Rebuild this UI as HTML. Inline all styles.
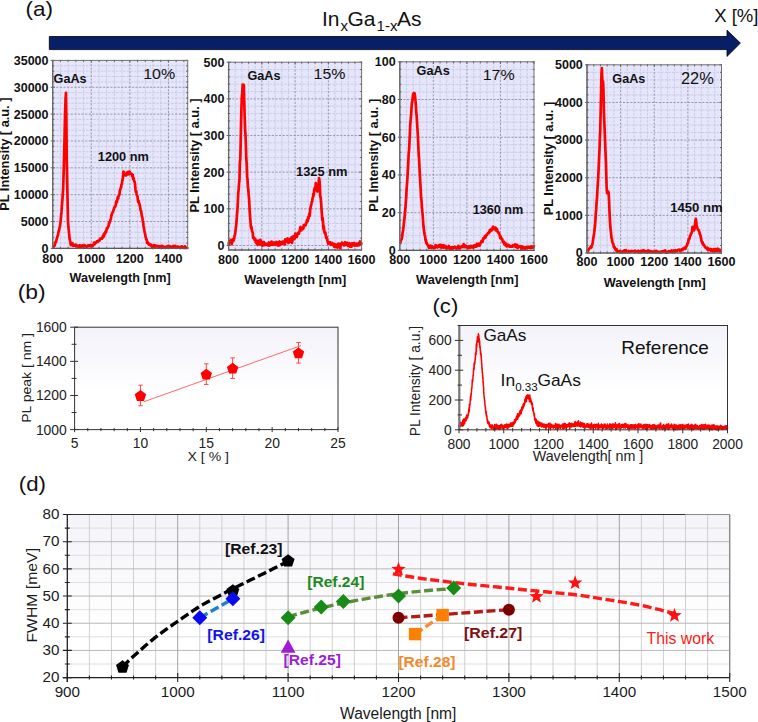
<!DOCTYPE html>
<html><head><meta charset="utf-8"><title>InGaAs PL figure</title>
<style>html,body{margin:0;padding:0;background:#fff;}body{width:758px;height:722px;overflow:hidden;font-family:"Liberation Sans", sans-serif;}svg{display:block;}</style>
</head><body>
<svg width="758" height="722" viewBox="0 0 758 722" font-family='"Liberation Sans", sans-serif'><defs><linearGradient id="gb" x1="0" y1="0" x2="0" y2="1"><stop offset="0" stop-color="#f2f2f9"/><stop offset="0.65" stop-color="#ffffff"/></linearGradient><linearGradient id="gd" x1="0" y1="0" x2="0" y2="1"><stop offset="0" stop-color="#f3f3f9"/><stop offset="0.7" stop-color="#ffffff"/></linearGradient></defs><text x="25.51" y="15.8" font-size="21" fill="#111" textLength="27.49" lengthAdjust="spacingAndGlyphs">(a)</text>
<text y="25.7" font-size="21" fill="#111"><tspan x="322">In</tspan><tspan x="340.4" y="31" font-size="15">x</tspan><tspan x="347.4" y="25.7">Ga</tspan><tspan x="376.6" y="31" font-size="15">1-x</tspan><tspan x="396.9" y="25.7">As</tspan></text>
<text x="714.18" y="21.8" font-size="18" fill="#111" textLength="44.34" lengthAdjust="spacingAndGlyphs">X [%]</text>
<path d="M49.3,36.5 L727,36.5 L727,30.2 L740.4,43.1 L727,56.4 L727,49.6 L49.3,49.6 Z" fill="#071f66" stroke="#000" stroke-width="0.8"/>
<rect x="52.7" y="60.4" width="135" height="188" fill="#e5e5fb"/>
<path d="M60.41,60.4V248.4M68.13,60.4V248.4M75.84,60.4V248.4M83.56,60.4V248.4M98.99,60.4V248.4M106.7,60.4V248.4M114.41,60.4V248.4M122.13,60.4V248.4M137.56,60.4V248.4M145.27,60.4V248.4M152.99,60.4V248.4M160.7,60.4V248.4M176.13,60.4V248.4M183.84,60.4V248.4M52.7,243.03H187.7M52.7,237.66H187.7M52.7,232.29H187.7M52.7,226.91H187.7M52.7,216.17H187.7M52.7,210.8H187.7M52.7,205.43H187.7M52.7,200.06H187.7M52.7,189.31H187.7M52.7,183.94H187.7M52.7,178.57H187.7M52.7,173.2H187.7M52.7,162.46H187.7M52.7,157.09H187.7M52.7,151.71H187.7M52.7,146.34H187.7M52.7,135.6H187.7M52.7,130.23H187.7M52.7,124.86H187.7M52.7,119.49H187.7M52.7,108.74H187.7M52.7,103.37H187.7M52.7,98H187.7M52.7,92.63H187.7M52.7,81.89H187.7M52.7,76.51H187.7M52.7,71.14H187.7M52.7,65.77H187.7" stroke="#c4c4dc" stroke-width="0.8" stroke-dasharray="2.5 1.2" fill="none"/>
<path d="M91.27,60.4V248.4M129.84,60.4V248.4M168.41,60.4V248.4M52.7,221.54H187.7M52.7,194.69H187.7M52.7,167.83H187.7M52.7,140.97H187.7M52.7,114.11H187.7M52.7,87.26H187.7" stroke="#8e8ea8" stroke-width="0.9" stroke-dasharray="2.2 1.4" fill="none"/>
<polyline points="52.7,247.59 53.1,246.84 53.5,246.69 53.91,246.55 54.31,245.66 54.71,245.34 55.11,243.83 55.51,241.96 55.91,242.1 56.32,240.97 56.72,238.86 57.12,237.54 57.52,236.24 57.92,235.44 58.32,233.08 58.73,230.72 59.13,230.42 59.53,227.61 59.93,226.45 60.33,223.23 60.74,220.49 61.14,215.14 61.54,211.63 61.94,205.35 62.34,200.52 62.74,194.96 63.15,189.21 63.55,175.62 63.95,162.41 64.35,146.37 64.75,129.09 65.16,110.95 65.56,99.13 65.96,92.87 66.36,119.21 66.76,161.86 67.16,181.1 67.57,200.88 67.97,220.65 68.37,226.48 68.77,230.37 69.17,234.04 69.58,238.51 69.98,240.62 70.38,241.98 70.78,245.13 71.18,243.74 71.58,244.2 71.99,244.81 72.39,243.23 72.79,244.28 73.19,245.78 73.59,245.07 73.99,244.86 74.4,245.47 74.8,244.97 75.2,245.55 75.6,245.13 76,244.68 76.41,246.15 76.81,245.62 77.21,246.12 77.61,245.78 78.01,246.7 78.41,246.34 78.82,246.13 79.22,245.43 79.62,245.3 80.02,246.97 80.42,246.63 80.83,245.7 81.23,247.46 81.63,246.45 82.03,246.21 82.43,245.32 82.83,245.7 83.24,246.38 83.64,246.41 84.04,246.33 84.44,245.16 84.84,246.45 85.24,246.36 85.65,245.92 86.05,246.23 86.45,246.27 86.85,246.86 87.25,246.11 87.66,246.37 88.06,245.28 88.46,245.59 88.86,246 89.26,245.49 89.66,246.11 90.07,245.12 90.47,245.75 90.87,245.27 91.27,246.41 91.67,245.19 92.08,246.39 92.48,246.45 92.88,245.08 93.28,245.24 93.68,244.26 94.08,242.55 94.49,244.33 94.89,243.85 95.29,242.94 95.69,242.41 96.09,242.54 96.49,242.25 96.9,241.32 97.3,241.15 97.7,241.96 98.1,241 98.5,240.63 98.91,241.1 99.31,239.86 99.71,240.33 100.11,238.68 100.51,238.87 100.91,238.55 101.32,238.61 101.72,237.8 102.12,238.68 102.52,237.52 102.92,235.87 103.33,237.17 103.73,234.36 104.13,235.71 104.53,233.18 104.93,233.75 105.33,231.8 105.74,231.57 106.14,232.12 106.54,229.12 106.94,228.1 107.34,228.41 107.74,227.63 108.15,226.51 108.55,226.08 108.95,223.18 109.35,223.35 109.75,221.65 110.16,221 110.56,219.53 110.96,218.78 111.36,215.17 111.76,215.12 112.16,212.78 112.57,212.39 112.97,211.85 113.37,210.37 113.77,209.51 114.17,207.94 114.58,207.32 114.98,206.28 115.38,206.39 115.78,204.86 116.18,201.38 116.58,202.67 116.99,201.93 117.39,199.29 117.79,196.9 118.19,198.59 118.59,195.93 118.99,195 119.4,194.83 119.8,190.65 120.2,190 120.6,188.37 121,187.72 121.41,184.68 121.81,183.99 122.21,181.23 122.61,179.6 123.01,176.78 123.41,171.51 123.82,173.01 124.22,172.35 124.62,173.63 125.02,174.82 125.42,175.25 125.83,174.16 126.23,175.35 126.63,174.87 127.03,174.09 127.43,172.02 127.83,172.06 128.24,172.03 128.64,173.1 129.04,174.24 129.44,171.59 129.84,171.95 130.24,173.78 130.65,173.41 131.05,173.56 131.45,173.81 131.85,174.03 132.25,176.17 132.66,174.46 133.06,178.81 133.46,177.58 133.86,179.64 134.26,181.03 134.66,181.84 135.07,184.36 135.47,189.38 135.87,191.97 136.27,191.12 136.67,194.91 137.07,195.49 137.48,196.14 137.88,200.22 138.28,202.12 138.68,201.1 139.08,202.74 139.49,204.47 139.89,205.68 140.29,208.13 140.69,210.44 141.09,211.01 141.49,213.82 141.9,216.68 142.3,217.14 142.7,220.14 143.1,222.22 143.5,225.77 143.91,227.73 144.31,230.26 144.71,232.45 145.11,233.86 145.51,236.7 145.91,237.76 146.32,239.37 146.72,239.46 147.12,242.78 147.52,241.89 147.92,243.06 148.33,243.4 148.73,244.72 149.13,244.42 149.53,244.03 149.93,244.99 150.33,245.11 150.74,245.49 151.14,244.64 151.54,245.52 151.94,247.06 152.34,246.13 152.74,247.06 153.15,247.8 153.55,246.25 153.95,245.08 154.35,246 154.75,246.87 155.16,246.78 155.56,245.47 155.96,246.17 156.36,246.3 156.76,246.42 157.16,246.42 157.57,245.96 157.97,246.18 158.37,246.45 158.77,247.32 159.17,246.35 159.58,247.17 159.98,246.04 160.38,247.64 160.78,246.93 161.18,246.88 161.58,247.78 161.99,245.81 162.39,246 162.79,247.29 163.19,246.5 163.59,246.78 163.99,247.8 164.4,246.89 164.8,247.1 165.2,247.02 165.6,247.78 166,247.26 166.41,247.2 166.81,246.3 167.21,246.86 167.61,247.08 168.01,246.07 168.41,247.43 168.82,247.31 169.22,247.8 169.62,246.01 170.02,246.4 170.42,246.43 170.82,246.58 171.23,246.94 171.63,246.86 172.03,247.16 172.43,247.13 172.83,246.95 173.24,245.99 173.64,246.61 174.04,247.01 174.44,247.35 174.84,247.39 175.24,245.92 175.65,246.64 176.05,246.94 176.45,247.22 176.85,247.73 177.25,247.06 177.66,246.46 178.06,247.31 178.46,247.23 178.86,247.25 179.26,247.05 179.66,247.8 180.07,247.33 180.47,247.77 180.87,246.66 181.27,247.77 181.67,246.93 182.08,246.34 182.48,247.58 182.88,247.8 183.28,247.32 183.68,247.48 184.08,247.8 184.49,247.26 184.89,246.28 185.29,247.8 185.69,247.8 186.09,247.8 186.49,247.55 186.9,247.8 187.3,247.8 187.7,247.03" fill="none" stroke="#ff0000" stroke-width="2.7" stroke-linejoin="round"/>
<path d="M52.7,246.2V249.2M52.7,59.9V62.6M60.41,246.9V249.2M60.41,59.9V61.9M68.13,246.9V249.2M68.13,59.9V61.9M75.84,246.9V249.2M75.84,59.9V61.9M83.56,246.9V249.2M83.56,59.9V61.9M91.27,246.2V249.2M91.27,59.9V62.6M98.99,246.9V249.2M98.99,59.9V61.9M106.7,246.9V249.2M106.7,59.9V61.9M114.41,246.9V249.2M114.41,59.9V61.9M122.13,246.9V249.2M122.13,59.9V61.9M129.84,246.2V249.2M129.84,59.9V62.6M137.56,246.9V249.2M137.56,59.9V61.9M145.27,246.9V249.2M145.27,59.9V61.9M152.99,246.9V249.2M152.99,59.9V61.9M160.7,246.9V249.2M160.7,59.9V61.9M168.41,246.2V249.2M168.41,59.9V62.6M176.13,246.9V249.2M176.13,59.9V61.9M183.84,246.9V249.2M183.84,59.9V61.9M50.7,248.4H54.9M185.5,248.4H188.2M51.9,243.03H54.2M186.2,243.03H188.2M51.9,237.66H54.2M186.2,237.66H188.2M51.9,232.29H54.2M186.2,232.29H188.2M51.9,226.91H54.2M186.2,226.91H188.2M50.7,221.54H54.9M185.5,221.54H188.2M51.9,216.17H54.2M186.2,216.17H188.2M51.9,210.8H54.2M186.2,210.8H188.2M51.9,205.43H54.2M186.2,205.43H188.2M51.9,200.06H54.2M186.2,200.06H188.2M50.7,194.69H54.9M185.5,194.69H188.2M51.9,189.31H54.2M186.2,189.31H188.2M51.9,183.94H54.2M186.2,183.94H188.2M51.9,178.57H54.2M186.2,178.57H188.2M51.9,173.2H54.2M186.2,173.2H188.2M50.7,167.83H54.9M185.5,167.83H188.2M51.9,162.46H54.2M186.2,162.46H188.2M51.9,157.09H54.2M186.2,157.09H188.2M51.9,151.71H54.2M186.2,151.71H188.2M51.9,146.34H54.2M186.2,146.34H188.2M50.7,140.97H54.9M185.5,140.97H188.2M51.9,135.6H54.2M186.2,135.6H188.2M51.9,130.23H54.2M186.2,130.23H188.2M51.9,124.86H54.2M186.2,124.86H188.2M51.9,119.49H54.2M186.2,119.49H188.2M50.7,114.11H54.9M185.5,114.11H188.2M51.9,108.74H54.2M186.2,108.74H188.2M51.9,103.37H54.2M186.2,103.37H188.2M51.9,98H54.2M186.2,98H188.2M51.9,92.63H54.2M186.2,92.63H188.2M50.7,87.26H54.9M185.5,87.26H188.2M51.9,81.89H54.2M186.2,81.89H188.2M51.9,76.51H54.2M186.2,76.51H188.2M51.9,71.14H54.2M186.2,71.14H188.2M51.9,65.77H54.2M186.2,65.77H188.2M50.7,60.4H54.9M185.5,60.4H188.2" stroke="#555" stroke-width="0.9" fill="none"/>
<rect x="52.7" y="60.4" width="135" height="188" fill="none" stroke="#707070" stroke-width="1"/>
<line x1="52.7" y1="60.4" x2="52.7" y2="248.4" stroke="#6a6a6a" stroke-width="1.3"/>
<line x1="52.7" y1="248.4" x2="187.7" y2="248.4" stroke="#5a5a5a" stroke-width="1.2"/>
<text x="48.5" y="252.8" font-size="12.5" font-weight="bold" text-anchor="end" fill="#111">0</text>
<text x="48.5" y="225.94" font-size="12.5" font-weight="bold" text-anchor="end" fill="#111">5000</text>
<text x="48.5" y="199.09" font-size="12.5" font-weight="bold" text-anchor="end" fill="#111">10000</text>
<text x="48.5" y="172.23" font-size="12.5" font-weight="bold" text-anchor="end" fill="#111">15000</text>
<text x="48.5" y="145.37" font-size="12.5" font-weight="bold" text-anchor="end" fill="#111">20000</text>
<text x="48.5" y="118.51" font-size="12.5" font-weight="bold" text-anchor="end" fill="#111">25000</text>
<text x="48.5" y="91.66" font-size="12.5" font-weight="bold" text-anchor="end" fill="#111">30000</text>
<text x="48.5" y="64.8" font-size="12.5" font-weight="bold" text-anchor="end" fill="#111">35000</text>
<text x="52.7" y="262.7" font-size="12.6" font-weight="bold" text-anchor="middle" fill="#111">800</text>
<text x="91.27" y="262.7" font-size="12.6" font-weight="bold" text-anchor="middle" fill="#111">1000</text>
<text x="129.84" y="262.7" font-size="12.6" font-weight="bold" text-anchor="middle" fill="#111">1200</text>
<text x="168.41" y="262.7" font-size="12.6" font-weight="bold" text-anchor="middle" fill="#111">1400</text>
<text x="69.49" y="281.8" font-size="12.1" font-weight="bold" fill="#111" textLength="101.22" lengthAdjust="spacingAndGlyphs">Wavelength [nm]</text>
<text x="53.58" y="83.2" font-size="12.2" font-weight="bold" fill="#111" textLength="33.04" lengthAdjust="spacingAndGlyphs">GaAs</text>
<text x="97.8" y="161.4" font-size="12.2" font-weight="bold" fill="#111" textLength="51.1" lengthAdjust="spacingAndGlyphs">1200 nm</text>
<text x="143.18" y="79.3" font-size="15.2" fill="#111" textLength="31.99" lengthAdjust="spacingAndGlyphs">10%</text>
<text transform="translate(9,210.75) rotate(-90)" font-size="12.4" font-weight="bold" fill="#111" textLength="113.17" lengthAdjust="spacingAndGlyphs">PL Intensity [ a.u. ]</text>
<rect x="228.6" y="62.2" width="133" height="187.8" fill="#e5e5fb"/>
<path d="M235.25,62.2V250M241.9,62.2V250M248.55,62.2V250M255.2,62.2V250M268.5,62.2V250M275.15,62.2V250M281.8,62.2V250M288.45,62.2V250M301.75,62.2V250M308.4,62.2V250M315.05,62.2V250M321.7,62.2V250M335,62.2V250M341.65,62.2V250M348.3,62.2V250M354.95,62.2V250M228.6,238.16H361.6M228.6,230.83H361.6M228.6,223.5H361.6M228.6,216.16H361.6M228.6,201.5H361.6M228.6,194.17H361.6M228.6,186.84H361.6M228.6,179.51H361.6M228.6,164.84H361.6M228.6,157.51H361.6M228.6,150.18H361.6M228.6,142.85H361.6M228.6,128.18H361.6M228.6,120.85H361.6M228.6,113.52H361.6M228.6,106.19H361.6M228.6,91.53H361.6M228.6,84.19H361.6M228.6,76.86H361.6M228.6,69.53H361.6" stroke="#c4c4dc" stroke-width="0.8" stroke-dasharray="2.5 1.2" fill="none"/>
<path d="M261.85,62.2V250M295.1,62.2V250M328.35,62.2V250M228.6,245.49H361.6M228.6,208.83H361.6M228.6,172.17H361.6M228.6,135.52H361.6M228.6,98.86H361.6" stroke="#8e8ea8" stroke-width="0.9" stroke-dasharray="2.2 1.4" fill="none"/>
<polyline points="228.6,244.86 229,242.06 229.4,241.31 229.81,242.85 230.21,242.28 230.61,240.2 231.01,242.88 231.41,243.19 231.81,244.07 232.22,241.89 232.62,239.33 233.02,239.14 233.42,240.89 233.82,239.79 234.23,238.14 234.63,235.55 235.03,234.52 235.43,231.47 235.83,228.09 236.23,225.12 236.64,219.95 237.04,214.23 237.44,209.36 237.84,202.42 238.24,193.04 238.65,189.56 239.05,183.43 239.45,179.75 239.85,162.78 240.25,159.48 240.65,145.61 241.06,123.39 241.46,107.52 241.86,96.53 242.26,92.81 242.66,84.68 243.07,95.71 243.47,88.93 243.87,84.96 244.27,102.42 244.67,116.9 245.07,129.06 245.48,134.57 245.88,145.07 246.28,158.42 246.68,163.53 247.08,176.86 247.49,179.17 247.89,186.95 248.29,189.09 248.69,195.12 249.09,198.7 249.49,207.32 249.9,214.3 250.3,219.25 250.7,224.79 251.1,228.09 251.5,226.81 251.91,230.7 252.31,231.93 252.71,232.31 253.11,237.99 253.51,237.83 253.91,237.56 254.32,238.22 254.72,240.13 255.12,238.76 255.52,240.44 255.92,242.85 256.33,242.81 256.73,240.74 257.13,241.47 257.53,244.93 257.93,240.71 258.33,241.89 258.74,241.04 259.14,243.49 259.54,243.48 259.94,244.67 260.34,239.85 260.75,243.54 261.15,241.24 261.55,244.27 261.95,243.23 262.35,245.71 262.75,244.02 263.16,242.23 263.56,245.23 263.96,242.16 264.36,243.16 264.76,245.02 265.16,244.32 265.57,244.27 265.97,243.74 266.37,244.4 266.77,244.79 267.17,244.1 267.58,245.06 267.98,245.41 268.38,243.75 268.78,242.5 269.18,245.7 269.58,243.65 269.99,244.51 270.39,244.93 270.79,242.48 271.19,244.29 271.59,241.58 272,244.6 272.4,243.02 272.8,243.82 273.2,244.5 273.6,242.68 274,243.65 274.41,242.61 274.81,243.45 275.21,244.81 275.61,243.47 276.01,243.23 276.42,241.98 276.82,244.45 277.22,243.25 277.62,245.47 278.02,242.25 278.42,244.54 278.83,245.48 279.23,243.08 279.63,241.47 280.03,244.97 280.43,244.33 280.84,243.82 281.24,244.28 281.64,242.18 282.04,243.72 282.44,243.53 282.84,241.68 283.25,243.41 283.65,241.7 284.05,243.52 284.45,243.74 284.85,244.48 285.26,239.29 285.66,242.16 286.06,241.24 286.46,241.49 286.86,241.08 287.26,241.09 287.67,238.35 288.07,242.32 288.47,242.89 288.87,241.96 289.27,242.25 289.68,239.12 290.08,238.81 290.48,241.14 290.88,241.53 291.28,239.81 291.68,237.03 292.09,242.87 292.49,237.72 292.89,239.76 293.29,236.31 293.69,239.07 294.1,237.49 294.5,238.89 294.9,237.66 295.3,233.61 295.7,234.02 296.1,235.47 296.51,235.78 296.91,236.97 297.31,234.2 297.71,233.2 298.11,232.85 298.52,232.44 298.92,233.68 299.32,231.52 299.72,231.04 300.12,228.39 300.52,226.96 300.93,229.84 301.33,230.43 301.73,228.76 302.13,229.21 302.53,228.98 302.94,227.34 303.34,228.6 303.74,225.23 304.14,225.99 304.54,224.83 304.94,225.04 305.35,225.4 305.75,225.11 306.15,223.02 306.55,222.71 306.95,220.24 307.36,219.6 307.76,221.09 308.16,217.04 308.56,218.58 308.96,215.75 309.36,213.65 309.77,215.95 310.17,209.71 310.57,207.6 310.97,205.92 311.37,204.04 311.78,201.8 312.18,201.47 312.58,198.08 312.98,197.19 313.38,193.92 313.78,195.56 314.19,189.93 314.59,188.32 314.99,187.44 315.39,186.81 315.79,183.17 316.2,190.2 316.6,186.92 317,190.32 317.4,191.57 317.8,189.35 318.2,188.21 318.61,183.82 319.01,177.99 319.41,179.5 319.81,185.52 320.21,196.56 320.62,197.06 321.02,201.56 321.42,207.3 321.82,213.1 322.22,219.92 322.62,217.72 323.03,222.29 323.43,228.96 323.83,226 324.23,231.35 324.63,232.96 325.04,233.73 325.44,232.5 325.84,236.89 326.24,237.94 326.64,237.23 327.04,238.37 327.45,241.36 327.85,242.06 328.25,243.9 328.65,243.5 329.05,242.32 329.45,242.65 329.86,243.29 330.26,242.32 330.66,244.85 331.06,244.07 331.46,243.17 331.87,243.49 332.27,242.97 332.67,243.94 333.07,244.95 333.47,244.13 333.87,245.97 334.28,246.84 334.68,243.98 335.08,244.83 335.48,244.38 335.88,247 336.29,245.28 336.69,245.58 337.09,245.93 337.49,247.74 337.89,245.24 338.29,243.63 338.7,244.3 339.1,245.57 339.5,244.8 339.9,243.79 340.3,248.36 340.71,244.93 341.11,244.06 341.51,243.87 341.91,242.55 342.31,243.28 342.71,244.35 343.12,244.36 343.52,243.73 343.92,245.45 344.32,244.8 344.72,243.56 345.13,242.19 345.53,244.94 345.93,244.79 346.33,244.46 346.73,242.96 347.13,244.74 347.54,242.78 347.94,245.95 348.34,244.93 348.74,244.93 349.14,243.64 349.55,243.3 349.95,246.62 350.35,245.84 350.75,244.2 351.15,245.49 351.55,246.61 351.96,243.26 352.36,243.96 352.76,243.95 353.16,245.21 353.56,243.23 353.97,244.88 354.37,243.12 354.77,245.74 355.17,245.65 355.57,244.26 355.97,245.44 356.38,243.63 356.78,244.16 357.18,245.7 357.58,244.39 357.98,244.93 358.39,243.26 358.79,245.28 359.19,245.02 359.59,242.85 359.99,241.49 360.39,241.8 360.8,244.33 361.2,244.11 361.6,242.38" fill="none" stroke="#ff0000" stroke-width="2.7" stroke-linejoin="round"/>
<path d="M228.6,247.8V250.8M228.6,61.7V64.4M235.25,248.5V250.8M235.25,61.7V63.7M241.9,248.5V250.8M241.9,61.7V63.7M248.55,248.5V250.8M248.55,61.7V63.7M255.2,248.5V250.8M255.2,61.7V63.7M261.85,247.8V250.8M261.85,61.7V64.4M268.5,248.5V250.8M268.5,61.7V63.7M275.15,248.5V250.8M275.15,61.7V63.7M281.8,248.5V250.8M281.8,61.7V63.7M288.45,248.5V250.8M288.45,61.7V63.7M295.1,247.8V250.8M295.1,61.7V64.4M301.75,248.5V250.8M301.75,61.7V63.7M308.4,248.5V250.8M308.4,61.7V63.7M315.05,248.5V250.8M315.05,61.7V63.7M321.7,248.5V250.8M321.7,61.7V63.7M328.35,247.8V250.8M328.35,61.7V64.4M335,248.5V250.8M335,61.7V63.7M341.65,248.5V250.8M341.65,61.7V63.7M348.3,248.5V250.8M348.3,61.7V63.7M354.95,248.5V250.8M354.95,61.7V63.7M361.6,247.8V250.8M361.6,61.7V64.4M226.6,245.49H230.8M359.4,245.49H362.1M227.8,238.16H230.1M360.1,238.16H362.1M227.8,230.83H230.1M360.1,230.83H362.1M227.8,223.5H230.1M360.1,223.5H362.1M227.8,216.16H230.1M360.1,216.16H362.1M226.6,208.83H230.8M359.4,208.83H362.1M227.8,201.5H230.1M360.1,201.5H362.1M227.8,194.17H230.1M360.1,194.17H362.1M227.8,186.84H230.1M360.1,186.84H362.1M227.8,179.51H230.1M360.1,179.51H362.1M226.6,172.17H230.8M359.4,172.17H362.1M227.8,164.84H230.1M360.1,164.84H362.1M227.8,157.51H230.1M360.1,157.51H362.1M227.8,150.18H230.1M360.1,150.18H362.1M227.8,142.85H230.1M360.1,142.85H362.1M226.6,135.52H230.8M359.4,135.52H362.1M227.8,128.18H230.1M360.1,128.18H362.1M227.8,120.85H230.1M360.1,120.85H362.1M227.8,113.52H230.1M360.1,113.52H362.1M227.8,106.19H230.1M360.1,106.19H362.1M226.6,98.86H230.8M359.4,98.86H362.1M227.8,91.53H230.1M360.1,91.53H362.1M227.8,84.19H230.1M360.1,84.19H362.1M227.8,76.86H230.1M360.1,76.86H362.1M227.8,69.53H230.1M360.1,69.53H362.1M226.6,62.2H230.8M359.4,62.2H362.1" stroke="#555" stroke-width="0.9" fill="none"/>
<rect x="228.6" y="62.2" width="133" height="187.8" fill="none" stroke="#707070" stroke-width="1"/>
<line x1="228.6" y1="62.2" x2="228.6" y2="250" stroke="#6a6a6a" stroke-width="1.3"/>
<line x1="228.6" y1="250" x2="361.6" y2="250" stroke="#5a5a5a" stroke-width="1.2"/>
<text x="224.4" y="249.89" font-size="12.5" font-weight="bold" text-anchor="end" fill="#111">0</text>
<text x="224.4" y="213.23" font-size="12.5" font-weight="bold" text-anchor="end" fill="#111">100</text>
<text x="224.4" y="176.57" font-size="12.5" font-weight="bold" text-anchor="end" fill="#111">200</text>
<text x="224.4" y="139.92" font-size="12.5" font-weight="bold" text-anchor="end" fill="#111">300</text>
<text x="224.4" y="103.26" font-size="12.5" font-weight="bold" text-anchor="end" fill="#111">400</text>
<text x="224.4" y="66.6" font-size="12.5" font-weight="bold" text-anchor="end" fill="#111">500</text>
<text x="228.6" y="264.1" font-size="12.6" font-weight="bold" text-anchor="middle" fill="#111">800</text>
<text x="261.85" y="264.1" font-size="12.6" font-weight="bold" text-anchor="middle" fill="#111">1000</text>
<text x="295.1" y="264.1" font-size="12.6" font-weight="bold" text-anchor="middle" fill="#111">1200</text>
<text x="328.35" y="264.1" font-size="12.6" font-weight="bold" text-anchor="middle" fill="#111">1400</text>
<text x="361.6" y="264.1" font-size="12.6" font-weight="bold" text-anchor="middle" fill="#111">1600</text>
<text x="244.19" y="283.7" font-size="12.1" font-weight="bold" fill="#111" textLength="102.02" lengthAdjust="spacingAndGlyphs">Wavelength [nm]</text>
<text x="247.48" y="79.7" font-size="12.2" font-weight="bold" fill="#111" textLength="33.04" lengthAdjust="spacingAndGlyphs">GaAs</text>
<text x="295.99" y="176.3" font-size="12.2" font-weight="bold" fill="#111" textLength="51.41" lengthAdjust="spacingAndGlyphs">1325 nm</text>
<text x="313.59" y="79.4" font-size="15.2" fill="#111" textLength="31.88" lengthAdjust="spacingAndGlyphs">15%</text>
<text transform="translate(198.8,212.56) rotate(-90)" font-size="12.4" font-weight="bold" fill="#111" textLength="114.18" lengthAdjust="spacingAndGlyphs">PL Intensity [ a.u. ]</text>
<rect x="399.8" y="61.8" width="134.2" height="188.6" fill="#e5e5fb"/>
<path d="M406.51,61.8V250.4M413.22,61.8V250.4M419.93,61.8V250.4M426.64,61.8V250.4M440.06,61.8V250.4M446.77,61.8V250.4M453.48,61.8V250.4M460.19,61.8V250.4M473.61,61.8V250.4M480.32,61.8V250.4M487.03,61.8V250.4M493.74,61.8V250.4M507.16,61.8V250.4M513.87,61.8V250.4M520.58,61.8V250.4M527.29,61.8V250.4M399.8,242.86H534M399.8,235.31H534M399.8,227.77H534M399.8,220.22H534M399.8,205.14H534M399.8,197.59H534M399.8,190.05H534M399.8,182.5H534M399.8,167.42H534M399.8,159.87H534M399.8,152.33H534M399.8,144.78H534M399.8,129.7H534M399.8,122.15H534M399.8,114.61H534M399.8,107.06H534M399.8,91.98H534M399.8,84.43H534M399.8,76.89H534M399.8,69.34H534" stroke="#c4c4dc" stroke-width="0.8" stroke-dasharray="2.5 1.2" fill="none"/>
<path d="M433.35,61.8V250.4M466.9,61.8V250.4M500.45,61.8V250.4M399.8,212.68H534M399.8,174.96H534M399.8,137.24H534M399.8,99.52H534" stroke="#8e8ea8" stroke-width="0.9" stroke-dasharray="2.2 1.4" fill="none"/>
<polyline points="399.8,243.39 400.2,243.31 400.6,241.38 401.01,239.91 401.41,239.62 401.81,238.68 402.21,236.57 402.61,232.49 403.01,231.19 403.42,227.73 403.82,224.13 404.22,220.08 404.62,216.87 405.02,211.6 405.43,207.99 405.83,202.18 406.23,197.11 406.63,188.95 407.03,183.67 407.43,177.68 407.84,170.36 408.24,163.13 408.64,154.98 409.04,150.17 409.44,142.45 409.84,134.78 410.25,124.89 410.65,120.25 411.05,115.54 411.45,109.27 411.85,103.02 412.26,101.65 412.66,98.59 413.06,94.4 413.46,93.75 413.86,92.96 414.26,94.72 414.67,93.33 415.07,96.02 415.47,100.74 415.87,104.9 416.27,113.06 416.68,115.86 417.08,123.19 417.48,129.4 417.88,136.4 418.28,145.01 418.68,154.06 419.09,159.6 419.49,168.33 419.89,175.35 420.29,182.8 420.69,189.41 421.1,197.8 421.5,200.54 421.9,207.11 422.3,211.52 422.7,215.48 423.1,221.55 423.51,227.02 423.91,229.61 424.31,232.87 424.71,234.87 425.11,236.62 425.51,240.39 425.92,240 426.32,243.02 426.72,242.63 427.12,243.96 427.52,244.95 427.93,245.4 428.33,246.33 428.73,246.82 429.13,248.07 429.53,246.91 429.93,245.5 430.34,245.53 430.74,246.19 431.14,246.78 431.54,248 431.94,246.19 432.35,247.46 432.75,247.44 433.15,247.59 433.55,247.21 433.95,247.6 434.35,247.24 434.76,248.02 435.16,247.34 435.56,244.99 435.96,246.93 436.36,247 436.77,246.27 437.17,246.05 437.57,247.54 437.97,246.7 438.37,245.68 438.77,246.18 439.18,246.26 439.58,245 439.98,246.88 440.38,246.2 440.78,246.7 441.19,244.97 441.59,247.92 441.99,246.84 442.39,246.73 442.79,245.73 443.19,245.82 443.6,245.18 444,247.77 444.4,245.83 444.8,246.78 445.2,247.17 445.6,246.2 446.01,247.52 446.41,248.59 446.81,247.2 447.21,248.25 447.61,247.6 448.02,246.8 448.42,246.93 448.82,245.92 449.22,247.52 449.62,248.72 450.02,248.12 450.43,248.32 450.83,248.63 451.23,247.26 451.63,248.23 452.03,249.4 452.44,247.14 452.84,247.84 453.24,247.45 453.64,247.67 454.04,247.21 454.44,247.7 454.85,246.66 455.25,247.32 455.65,247.31 456.05,247.25 456.45,248.79 456.86,247.63 457.26,247.65 457.66,247.18 458.06,248.45 458.46,245.81 458.86,247.04 459.27,248.09 459.67,248.44 460.07,247.14 460.47,246.9 460.87,247.36 461.27,246.59 461.68,247.15 462.08,246.06 462.48,247.09 462.88,246.45 463.28,245.53 463.69,244.12 464.09,247.15 464.49,246.65 464.89,246.95 465.29,245.54 465.69,247.19 466.1,246.62 466.5,246.23 466.9,247.06 467.3,247.06 467.7,246.67 468.11,248.09 468.51,247.56 468.91,246.71 469.31,246.26 469.71,246.59 470.11,247.99 470.52,246.9 470.92,245.86 471.32,246.1 471.72,246.67 472.12,247.38 472.53,246.09 472.93,247.13 473.33,247.63 473.73,247.29 474.13,245.33 474.53,246.34 474.94,245.47 475.34,246.79 475.74,245.47 476.14,246.67 476.54,246.14 476.94,243.71 477.35,244.99 477.75,245.87 478.15,245.27 478.55,244.65 478.95,243.6 479.36,244.75 479.76,245.49 480.16,243.86 480.56,243.22 480.96,242.72 481.36,241.24 481.77,241.64 482.17,240.73 482.57,241.88 482.97,239.65 483.37,238.04 483.78,238.64 484.18,238.52 484.58,238.03 484.98,236.02 485.38,237.8 485.78,236.5 486.19,235.41 486.59,234.57 486.99,235.03 487.39,233.8 487.79,233.76 488.2,232.87 488.6,232.57 489,232.96 489.4,231.5 489.8,230.25 490.2,231.48 490.61,230.45 491.01,229.3 491.41,230.54 491.81,229.15 492.21,230.04 492.61,227.9 493.02,226.7 493.42,226.87 493.82,228.82 494.22,227.96 494.62,228.55 495.03,228.66 495.43,227.56 495.83,230.38 496.23,228.63 496.63,230.05 497.03,229.27 497.44,230.93 497.84,232.33 498.24,232.18 498.64,232.51 499.04,233.89 499.45,234.28 499.85,235.97 500.25,238.19 500.65,236.33 501.05,237.3 501.45,238.56 501.86,239.37 502.26,239.25 502.66,241.23 503.06,242.09 503.46,242.24 503.87,241.6 504.27,244.33 504.67,242.57 505.07,244.56 505.47,245.33 505.87,243.62 506.28,245.07 506.68,246.35 507.08,245.75 507.48,244.81 507.88,244.73 508.29,246.24 508.69,245.61 509.09,245.42 509.49,246.64 509.89,245.82 510.29,246.17 510.7,246.62 511.1,246.59 511.5,246.11 511.9,246.15 512.3,246.66 512.7,246.54 513.11,245.22 513.51,245.99 513.91,245.43 514.31,245.17 514.71,245.72 515.12,244.3 515.52,246.99 515.92,245.62 516.32,246.63 516.72,244.82 517.12,245.01 517.53,248.2 517.93,247.42 518.33,246.09 518.73,246.06 519.13,246.18 519.54,246.95 519.94,246.57 520.34,246.48 520.74,247.19 521.14,246.32 521.54,249.2 521.95,246.8 522.35,248.3 522.75,246.66 523.15,247.73 523.55,248.35 523.96,247.32 524.36,248.45 524.76,248.49 525.16,249.07 525.56,247.77 525.96,247.33 526.37,246.89 526.77,247.87 527.17,246.84 527.57,247.7 527.97,247.76 528.37,247.15 528.78,246.69 529.18,247.84 529.58,247.7 529.98,247.56 530.38,247.29 530.79,248.06 531.19,246.33 531.59,247.48 531.99,246.66 532.39,247.69 532.79,246.59 533.2,246.49 533.6,247.11 534,244.95" fill="none" stroke="#ff0000" stroke-width="2.7" stroke-linejoin="round"/>
<path d="M399.8,248.2V251.2M399.8,61.3V64M406.51,248.9V251.2M406.51,61.3V63.3M413.22,248.9V251.2M413.22,61.3V63.3M419.93,248.9V251.2M419.93,61.3V63.3M426.64,248.9V251.2M426.64,61.3V63.3M433.35,248.2V251.2M433.35,61.3V64M440.06,248.9V251.2M440.06,61.3V63.3M446.77,248.9V251.2M446.77,61.3V63.3M453.48,248.9V251.2M453.48,61.3V63.3M460.19,248.9V251.2M460.19,61.3V63.3M466.9,248.2V251.2M466.9,61.3V64M473.61,248.9V251.2M473.61,61.3V63.3M480.32,248.9V251.2M480.32,61.3V63.3M487.03,248.9V251.2M487.03,61.3V63.3M493.74,248.9V251.2M493.74,61.3V63.3M500.45,248.2V251.2M500.45,61.3V64M507.16,248.9V251.2M507.16,61.3V63.3M513.87,248.9V251.2M513.87,61.3V63.3M520.58,248.9V251.2M520.58,61.3V63.3M527.29,248.9V251.2M527.29,61.3V63.3M534,248.2V251.2M534,61.3V64M397.8,250.4H402M531.8,250.4H534.5M399,242.86H401.3M532.5,242.86H534.5M399,235.31H401.3M532.5,235.31H534.5M399,227.77H401.3M532.5,227.77H534.5M399,220.22H401.3M532.5,220.22H534.5M397.8,212.68H402M531.8,212.68H534.5M399,205.14H401.3M532.5,205.14H534.5M399,197.59H401.3M532.5,197.59H534.5M399,190.05H401.3M532.5,190.05H534.5M399,182.5H401.3M532.5,182.5H534.5M397.8,174.96H402M531.8,174.96H534.5M399,167.42H401.3M532.5,167.42H534.5M399,159.87H401.3M532.5,159.87H534.5M399,152.33H401.3M532.5,152.33H534.5M399,144.78H401.3M532.5,144.78H534.5M397.8,137.24H402M531.8,137.24H534.5M399,129.7H401.3M532.5,129.7H534.5M399,122.15H401.3M532.5,122.15H534.5M399,114.61H401.3M532.5,114.61H534.5M399,107.06H401.3M532.5,107.06H534.5M397.8,99.52H402M531.8,99.52H534.5M399,91.98H401.3M532.5,91.98H534.5M399,84.43H401.3M532.5,84.43H534.5M399,76.89H401.3M532.5,76.89H534.5M399,69.34H401.3M532.5,69.34H534.5M397.8,61.8H402M531.8,61.8H534.5" stroke="#555" stroke-width="0.9" fill="none"/>
<rect x="399.8" y="61.8" width="134.2" height="188.6" fill="none" stroke="#707070" stroke-width="1"/>
<line x1="399.8" y1="61.8" x2="399.8" y2="250.4" stroke="#6a6a6a" stroke-width="1.3"/>
<line x1="399.8" y1="250.4" x2="534" y2="250.4" stroke="#5a5a5a" stroke-width="1.2"/>
<text x="395.6" y="254.8" font-size="12.5" font-weight="bold" text-anchor="end" fill="#111">0</text>
<text x="395.6" y="217.08" font-size="12.5" font-weight="bold" text-anchor="end" fill="#111">20</text>
<text x="395.6" y="179.36" font-size="12.5" font-weight="bold" text-anchor="end" fill="#111">40</text>
<text x="395.6" y="141.64" font-size="12.5" font-weight="bold" text-anchor="end" fill="#111">60</text>
<text x="395.6" y="103.92" font-size="12.5" font-weight="bold" text-anchor="end" fill="#111">80</text>
<text x="395.6" y="66.2" font-size="12.5" font-weight="bold" text-anchor="end" fill="#111">100</text>
<text x="399.8" y="264" font-size="12.6" font-weight="bold" text-anchor="middle" fill="#111">800</text>
<text x="433.35" y="264" font-size="12.6" font-weight="bold" text-anchor="middle" fill="#111">1000</text>
<text x="466.9" y="264" font-size="12.6" font-weight="bold" text-anchor="middle" fill="#111">1200</text>
<text x="500.45" y="264" font-size="12.6" font-weight="bold" text-anchor="middle" fill="#111">1400</text>
<text x="534" y="264" font-size="12.6" font-weight="bold" text-anchor="middle" fill="#111">1600</text>
<text x="416.09" y="284.2" font-size="12.1" font-weight="bold" fill="#111" textLength="102.33" lengthAdjust="spacingAndGlyphs">Wavelength [nm]</text>
<text x="416.58" y="74.9" font-size="12.2" font-weight="bold" fill="#111" textLength="33.24" lengthAdjust="spacingAndGlyphs">GaAs</text>
<text x="472.7" y="214.4" font-size="12.2" font-weight="bold" fill="#111" textLength="50.68" lengthAdjust="spacingAndGlyphs">1360 nm</text>
<text x="482.69" y="80.4" font-size="15.2" fill="#111" textLength="31.88" lengthAdjust="spacingAndGlyphs">17%</text>
<text transform="translate(377.5,211.85) rotate(-90)" font-size="12.4" font-weight="bold" fill="#111" textLength="113.06" lengthAdjust="spacingAndGlyphs">PL Intensity [ a.u. ]</text>
<rect x="587" y="64.8" width="134.5" height="188.2" fill="#e5e5fb"/>
<path d="M593.73,64.8V253M600.45,64.8V253M607.17,64.8V253M613.9,64.8V253M627.35,64.8V253M634.08,64.8V253M640.8,64.8V253M647.52,64.8V253M660.98,64.8V253M667.7,64.8V253M674.42,64.8V253M681.15,64.8V253M694.6,64.8V253M701.33,64.8V253M708.05,64.8V253M714.77,64.8V253M587,245.47H721.5M587,237.94H721.5M587,230.42H721.5M587,222.89H721.5M587,207.83H721.5M587,200.3H721.5M587,192.78H721.5M587,185.25H721.5M587,170.19H721.5M587,162.66H721.5M587,155.14H721.5M587,147.61H721.5M587,132.55H721.5M587,125.02H721.5M587,117.5H721.5M587,109.97H721.5M587,94.91H721.5M587,87.38H721.5M587,79.86H721.5M587,72.33H721.5" stroke="#c4c4dc" stroke-width="0.8" stroke-dasharray="2.5 1.2" fill="none"/>
<path d="M620.62,64.8V253M654.25,64.8V253M687.88,64.8V253M587,215.36H721.5M587,177.72H721.5M587,140.08H721.5M587,102.44H721.5" stroke="#8e8ea8" stroke-width="0.9" stroke-dasharray="2.2 1.4" fill="none"/>
<polyline points="587,251.66 587.4,250.28 587.8,250.18 588.2,250.56 588.61,249.83 589.01,248.79 589.41,248.46 589.81,247.92 590.21,247.55 590.61,247.85 591.01,246.38 591.42,247.4 591.82,245.34 592.22,244.89 592.62,242.96 593.02,240.28 593.42,237.32 593.83,235.65 594.23,232.71 594.63,228.69 595.03,225.5 595.43,220.1 595.83,212.73 596.23,209.44 596.64,201.85 597.04,197.62 597.44,189.45 597.84,183.55 598.24,176.56 598.64,168.54 599.04,158.35 599.45,150.45 599.85,139.55 600.25,129.18 600.65,112.99 601.05,95.26 601.45,74.34 601.86,68.07 602.26,78.41 602.66,92.31 603.06,81.46 603.46,90.13 603.86,109.63 604.26,121.17 604.67,129.92 605.07,141.41 605.47,151.18 605.87,161.19 606.27,175.4 606.67,188.31 607.07,193.2 607.48,193.2 607.88,191.53 608.28,191.49 608.68,193.52 609.08,200.79 609.48,211.17 609.89,220.05 610.29,225.4 610.69,230.06 611.09,233.37 611.49,237.86 611.89,238.76 612.29,242.05 612.7,243.14 613.1,243.64 613.5,245.15 613.9,247.43 614.3,246.87 614.7,247.27 615.1,248.9 615.51,249.46 615.91,249.36 616.31,250.64 616.71,249.25 617.11,251.92 617.51,251.51 617.91,251.29 618.32,251.44 618.72,251.33 619.12,251.35 619.52,251.68 619.92,250.95 620.32,252.4 620.73,251.69 621.13,252.13 621.53,251.66 621.93,251.62 622.33,252.27 622.73,252.11 623.13,251.27 623.54,251.51 623.94,252.09 624.34,250.5 624.74,250.32 625.14,252.4 625.54,251.43 625.94,250.14 626.35,251.11 626.75,251.41 627.15,251.63 627.55,251.81 627.95,251.6 628.35,251.78 628.76,251.02 629.16,251.66 629.56,251.68 629.96,252.11 630.36,251.45 630.76,251.93 631.16,251.52 631.57,250.82 631.97,251.21 632.37,251.13 632.77,251.22 633.17,251.4 633.57,251.51 633.97,251.62 634.38,251.01 634.78,252.08 635.18,250.69 635.58,251.45 635.98,251.9 636.38,251.76 636.79,251.88 637.19,251.4 637.59,251.91 637.99,250.85 638.39,251.96 638.79,252.4 639.19,251.95 639.6,252.4 640,251.56 640.4,250.94 640.8,251.18 641.2,252.33 641.6,252 642,250.54 642.41,251.39 642.81,251.57 643.21,250.97 643.61,250.17 644.01,250.84 644.41,251.51 644.81,251.4 645.22,251.25 645.62,251.96 646.02,252.22 646.42,251.59 646.82,252.17 647.22,251.66 647.63,251.58 648.03,250.29 648.43,252.13 648.83,251.71 649.23,251.74 649.63,251.4 650.03,251.05 650.44,251.94 650.84,252.13 651.24,252.4 651.64,252.2 652.04,251.36 652.44,251.65 652.84,252.26 653.25,251.89 653.65,251.66 654.05,251.39 654.45,252.03 654.85,251.83 655.25,252.4 655.66,252.36 656.06,250.78 656.46,252.4 656.86,251.92 657.26,251.62 657.66,251.97 658.06,252.23 658.47,251.81 658.87,251.79 659.27,251.85 659.67,252.4 660.07,251.9 660.47,252.32 660.87,252.15 661.28,251.71 661.68,251.47 662.08,251.32 662.48,252.12 662.88,251.29 663.28,251.13 663.69,251.12 664.09,250.94 664.49,251.76 664.89,251.13 665.29,250.34 665.69,252.4 666.09,251.69 666.5,252.15 666.9,252.06 667.3,252.4 667.7,252.31 668.1,251.77 668.5,251.21 668.9,251.1 669.31,251.67 669.71,251.68 670.11,252 670.51,251.24 670.91,251.58 671.31,251.05 671.71,250.35 672.12,251.34 672.52,252.15 672.92,251.74 673.32,252.05 673.72,251.86 674.12,250.37 674.53,250.95 674.93,251.92 675.33,250.61 675.73,250.21 676.13,251.1 676.53,251.23 676.93,250.98 677.34,250.57 677.74,250.3 678.14,249.92 678.54,249.83 678.94,249.78 679.34,249.61 679.74,249.96 680.15,251.18 680.55,250.3 680.95,249.96 681.35,250.28 681.75,249.42 682.15,250.04 682.56,250.21 682.96,248.61 683.36,248.82 683.76,248.81 684.16,248.06 684.56,247.62 684.96,247.65 685.37,248.9 685.77,247.32 686.17,246.62 686.57,246.33 686.97,244.89 687.37,243.44 687.77,243.5 688.18,242.75 688.58,239.36 688.98,239.67 689.38,238.95 689.78,236.85 690.18,235.71 690.59,235.56 690.99,233.54 691.39,233.47 691.79,232.68 692.19,229.75 692.59,226.78 692.99,228.72 693.4,229.19 693.8,230.42 694.2,228.3 694.6,229.09 695,223.86 695.4,221.09 695.8,218.94 696.21,221.15 696.61,225.53 697.01,226.66 697.41,228.1 697.81,229.34 698.21,229.86 698.61,229.88 699.02,231.01 699.42,231.85 699.82,234.08 700.22,235.06 700.62,236.07 701.02,238.31 701.43,240.71 701.83,241.74 702.23,243.07 702.63,242.18 703.03,244.68 703.43,244.24 703.83,245.41 704.24,245.3 704.64,246.2 705.04,247.25 705.44,247.63 705.84,247.75 706.24,247.96 706.64,248.62 707.05,248.54 707.45,247.75 707.85,249.91 708.25,248.9 708.65,249.74 709.05,249.22 709.46,248.96 709.86,249.59 710.26,249.19 710.66,250.67 711.06,249.13 711.46,250.19 711.86,249.51 712.27,249.81 712.67,251.46 713.07,250.41 713.47,249.86 713.87,249.09 714.27,249.85 714.67,249.88 715.08,250.88 715.48,249.22 715.88,249.02 716.28,250.08 716.68,250.25 717.08,251.1 717.49,249.66 717.89,248.64 718.29,249.85 718.69,249.58 719.09,250.05 719.49,251 719.89,249.71 720.3,251.27 720.7,250.74 721.1,250.52 721.5,250.23" fill="none" stroke="#ff0000" stroke-width="2.7" stroke-linejoin="round"/>
<path d="M587,250.8V253.8M587,64.3V67M593.73,251.5V253.8M593.73,64.3V66.3M600.45,251.5V253.8M600.45,64.3V66.3M607.17,251.5V253.8M607.17,64.3V66.3M613.9,251.5V253.8M613.9,64.3V66.3M620.62,250.8V253.8M620.62,64.3V67M627.35,251.5V253.8M627.35,64.3V66.3M634.08,251.5V253.8M634.08,64.3V66.3M640.8,251.5V253.8M640.8,64.3V66.3M647.52,251.5V253.8M647.52,64.3V66.3M654.25,250.8V253.8M654.25,64.3V67M660.98,251.5V253.8M660.98,64.3V66.3M667.7,251.5V253.8M667.7,64.3V66.3M674.42,251.5V253.8M674.42,64.3V66.3M681.15,251.5V253.8M681.15,64.3V66.3M687.88,250.8V253.8M687.88,64.3V67M694.6,251.5V253.8M694.6,64.3V66.3M701.33,251.5V253.8M701.33,64.3V66.3M708.05,251.5V253.8M708.05,64.3V66.3M714.77,251.5V253.8M714.77,64.3V66.3M721.5,250.8V253.8M721.5,64.3V67M585,253H589.2M719.3,253H722M586.2,245.47H588.5M720,245.47H722M586.2,237.94H588.5M720,237.94H722M586.2,230.42H588.5M720,230.42H722M586.2,222.89H588.5M720,222.89H722M585,215.36H589.2M719.3,215.36H722M586.2,207.83H588.5M720,207.83H722M586.2,200.3H588.5M720,200.3H722M586.2,192.78H588.5M720,192.78H722M586.2,185.25H588.5M720,185.25H722M585,177.72H589.2M719.3,177.72H722M586.2,170.19H588.5M720,170.19H722M586.2,162.66H588.5M720,162.66H722M586.2,155.14H588.5M720,155.14H722M586.2,147.61H588.5M720,147.61H722M585,140.08H589.2M719.3,140.08H722M586.2,132.55H588.5M720,132.55H722M586.2,125.02H588.5M720,125.02H722M586.2,117.5H588.5M720,117.5H722M586.2,109.97H588.5M720,109.97H722M585,102.44H589.2M719.3,102.44H722M586.2,94.91H588.5M720,94.91H722M586.2,87.38H588.5M720,87.38H722M586.2,79.86H588.5M720,79.86H722M586.2,72.33H588.5M720,72.33H722M585,64.8H589.2M719.3,64.8H722" stroke="#555" stroke-width="0.9" fill="none"/>
<rect x="587" y="64.8" width="134.5" height="188.2" fill="none" stroke="#707070" stroke-width="1"/>
<line x1="587" y1="64.8" x2="587" y2="253" stroke="#6a6a6a" stroke-width="1.3"/>
<line x1="587" y1="253" x2="721.5" y2="253" stroke="#5a5a5a" stroke-width="1.2"/>
<text x="582.8" y="257.4" font-size="12.5" font-weight="bold" text-anchor="end" fill="#111">0</text>
<text x="582.8" y="219.76" font-size="12.5" font-weight="bold" text-anchor="end" fill="#111">1000</text>
<text x="582.8" y="182.12" font-size="12.5" font-weight="bold" text-anchor="end" fill="#111">2000</text>
<text x="582.8" y="144.48" font-size="12.5" font-weight="bold" text-anchor="end" fill="#111">3000</text>
<text x="582.8" y="106.84" font-size="12.5" font-weight="bold" text-anchor="end" fill="#111">4000</text>
<text x="582.8" y="69.2" font-size="12.5" font-weight="bold" text-anchor="end" fill="#111">5000</text>
<text x="587" y="266.4" font-size="12.6" font-weight="bold" text-anchor="middle" fill="#111">800</text>
<text x="620.62" y="266.4" font-size="12.6" font-weight="bold" text-anchor="middle" fill="#111">1000</text>
<text x="654.25" y="266.4" font-size="12.6" font-weight="bold" text-anchor="middle" fill="#111">1200</text>
<text x="687.88" y="266.4" font-size="12.6" font-weight="bold" text-anchor="middle" fill="#111">1400</text>
<text x="721.5" y="266.4" font-size="12.6" font-weight="bold" text-anchor="middle" fill="#111">1600</text>
<text x="603.69" y="286.9" font-size="12.1" font-weight="bold" fill="#111" textLength="102.02" lengthAdjust="spacingAndGlyphs">Wavelength [nm]</text>
<text x="612.38" y="82.9" font-size="12.2" font-weight="bold" fill="#111" textLength="32.83" lengthAdjust="spacingAndGlyphs">GaAs</text>
<text x="670.17" y="212" font-size="12.2" font-weight="bold" fill="#111" textLength="52.54" lengthAdjust="spacingAndGlyphs">1450 nm</text>
<text x="680.98" y="84.2" font-size="15.7" fill="#111" textLength="32.81" lengthAdjust="spacingAndGlyphs">22%</text>
<text transform="translate(552.8,215.35) rotate(-90)" font-size="12.4" font-weight="bold" fill="#111" textLength="113.57" lengthAdjust="spacingAndGlyphs">PL Intensity [ a.u. ]</text>
<text x="17.78" y="299.1" font-size="21" fill="#111" textLength="27.93" lengthAdjust="spacingAndGlyphs">(b)</text>
<rect x="74.6" y="327.2" width="263.4" height="102.4" fill="url(#gb)"/>
<rect x="74.6" y="327.2" width="263.4" height="102.4" fill="none" stroke="#333" stroke-width="1"/>
<path d="M70.1,429.6H78.1M71.6,412.53H76.6M70.1,395.47H78.1M71.6,378.4H76.6M70.1,361.33H78.1M71.6,344.27H76.6M70.1,327.2H78.1M74.6,427.1V432.1M87.77,428V431.2M100.94,428V431.2M114.11,428V431.2M127.28,428V431.2M140.45,427.1V432.1M153.62,428V431.2M166.79,428V431.2M179.96,428V431.2M193.13,428V431.2M206.3,427.1V432.1M219.47,428V431.2M232.64,428V431.2M245.81,428V431.2M258.98,428V431.2M272.15,427.1V432.1M285.32,428V431.2M298.49,428V431.2M311.66,428V431.2M324.83,428V431.2M338,427.1V432.1" stroke="#333" stroke-width="1" fill="none"/>
<text x="66.8" y="434.6" font-size="13.9" text-anchor="end" fill="#222">1000</text>
<text x="66.8" y="400.47" font-size="13.9" text-anchor="end" fill="#222">1200</text>
<text x="66.8" y="366.33" font-size="13.9" text-anchor="end" fill="#222">1400</text>
<text x="66.8" y="332.2" font-size="13.9" text-anchor="end" fill="#222">1600</text>
<text x="74.6" y="448.2" font-size="13.9" text-anchor="middle" fill="#222">5</text>
<text x="140.45" y="448.2" font-size="13.9" text-anchor="middle" fill="#222">10</text>
<text x="206.3" y="448.2" font-size="13.9" text-anchor="middle" fill="#222">15</text>
<text x="272.15" y="448.2" font-size="13.9" text-anchor="middle" fill="#222">20</text>
<text x="338" y="448.2" font-size="13.9" text-anchor="middle" fill="#222">25</text>
<text transform="translate(31.3,422.84) rotate(-90)" font-size="13.5" fill="#222" textLength="89.84" lengthAdjust="spacingAndGlyphs">PL peak [ nm ]</text>
<text x="187.58" y="460.6" font-size="13.3" fill="#222" textLength="41.42" lengthAdjust="spacingAndGlyphs">X [ % ]</text>
<line x1="143.7" y1="401.8" x2="301" y2="345.6" stroke="#ff5a5a" stroke-width="0.9"/>
<path d="M140.45,385.17V405.77M138.15,385.17H142.75M138.15,405.77H142.75" stroke="#ff4a4a" stroke-width="1" fill="none"/>
<polygon points="140.45,390.07 146.16,394.21 143.98,400.92 136.92,400.92 134.74,394.21" fill="#ff0000"/>
<path d="M206.3,363.83V384.43M204,363.83H208.6M204,384.43H208.6" stroke="#ff4a4a" stroke-width="1" fill="none"/>
<polygon points="206.3,368.73 212.01,372.88 209.83,379.59 202.77,379.59 200.59,372.88" fill="#ff0000"/>
<path d="M232.64,357.86V378.46M230.34,357.86H234.94M230.34,378.46H234.94" stroke="#ff4a4a" stroke-width="1" fill="none"/>
<polygon points="232.64,362.76 238.35,366.91 236.17,373.61 229.11,373.61 226.93,366.91" fill="#ff0000"/>
<path d="M298.49,342.5V363.1M296.19,342.5H300.79M296.19,363.1H300.79" stroke="#ff4a4a" stroke-width="1" fill="none"/>
<polygon points="298.49,347.4 304.2,351.55 302.02,358.25 294.96,358.25 292.78,351.55" fill="#ff0000"/>
<text x="432.53" y="312.8" font-size="21" fill="#111" textLength="25.74" lengthAdjust="spacingAndGlyphs">(c)</text>
<rect x="459" y="325.5" width="268.5" height="104.3" fill="url(#gb)"/>
<polyline points="459,424.85 459.09,424.84 459.18,426.12 459.27,426.68 459.36,425.08 459.45,425.92 459.54,426.57 459.63,426.48 459.72,425.54 459.81,427.07 459.9,426.44 459.98,426.73 460.07,424.58 460.16,424.27 460.25,422.37 460.34,426.38 460.43,425.39 460.52,423.5 460.61,424.76 460.7,424.83 460.79,422.42 460.88,424.75 460.97,425.64 461.06,425.78 461.15,423.8 461.24,423.78 461.33,425.68 461.42,425.18 461.51,423.37 461.6,423.28 461.69,424.66 461.78,423.15 461.86,423.17 461.95,425.88 462.04,424.13 462.13,423.25 462.22,424.36 462.31,426.14 462.4,423.93 462.49,422.67 462.58,421.65 462.67,425.99 462.76,420.31 462.85,424.61 462.94,422.09 463.03,421.69 463.12,421.89 463.21,422.77 463.3,424.21 463.39,422.02 463.48,423.48 463.57,425.49 463.66,419.08 463.75,421.45 463.83,420.03 463.92,423.12 464.01,420.2 464.1,419.93 464.19,419.86 464.28,421.6 464.37,422.88 464.46,421.55 464.55,423.84 464.64,423.13 464.73,420.88 464.82,422.05 464.91,420.95 465,420.76 465.09,418.2 465.18,418.83 465.27,420.31 465.36,418.69 465.45,420.94 465.54,420.27 465.63,418.65 465.71,421.1 465.8,419.81 465.89,420.92 465.98,419.05 466.07,417.08 466.16,419.8 466.25,418.48 466.34,419.68 466.43,419.83 466.52,419.77 466.61,416.35 466.7,415.09 466.79,417.19 466.88,418.46 466.97,416.55 467.06,417.63 467.15,416.06 467.24,416.48 467.33,416.27 467.42,415.65 467.51,416.89 467.59,416.45 467.68,417.81 467.77,415.97 467.86,416.91 467.95,415.07 468.04,415.75 468.13,414.1 468.22,413.33 468.31,415.31 468.4,414.16 468.49,413.93 468.58,411.4 468.67,409.73 468.76,410.34 468.85,411.4 468.94,408.57 469.03,411.84 469.12,407.45 469.21,409.64 469.3,411.8 469.39,404.17 469.47,404.93 469.56,407.7 469.65,405.47 469.74,405.31 469.83,404.22 469.92,405.64 470.01,403.9 470.1,401.68 470.19,401.33 470.28,399.35 470.37,400.19 470.46,396.45 470.55,399.95 470.64,397.93 470.73,400.2 470.82,398.57 470.91,394.24 471,396.62 471.09,393.77 471.18,393.78 471.27,394.34 471.36,392.51 471.44,391.9 471.53,391 471.62,388.36 471.71,387.64 471.8,388.58 471.89,388.22 471.98,385.66 472.07,385.41 472.16,382.94 472.25,379.71 472.34,381.6 472.43,382.1 472.52,381.49 472.61,381.72 472.7,380.99 472.79,380.33 472.88,378.59 472.97,377.84 473.06,375.23 473.15,376.2 473.24,375.09 473.32,375.9 473.41,370.63 473.5,371.64 473.59,368.84 473.68,369.65 473.77,367.78 473.86,369.83 473.95,367.54 474.04,363.63 474.13,369.26 474.22,364.67 474.31,363.12 474.4,364.51 474.49,363.26 474.58,361.72 474.67,364.26 474.76,361.78 474.85,363.26 474.94,362.26 475.03,361.47 475.12,359.98 475.2,358.78 475.29,357.56 475.38,360.09 475.47,353.47 475.56,354.16 475.65,354.17 475.74,355.3 475.83,354.04 475.92,352.09 476.01,351.5 476.1,354.38 476.19,349.18 476.28,344.38 476.37,352.09 476.46,346.06 476.55,346.31 476.64,346.32 476.73,342.73 476.82,346.62 476.91,343.34 477,340.16 477.09,342.56 477.17,342.31 477.26,340.67 477.35,341.1 477.44,336.74 477.53,340.81 477.62,336.91 477.71,340.46 477.8,336.39 477.89,337.52 477.98,341.98 478.07,336.85 478.16,338.76 478.25,337.53 478.34,333.78 478.43,339 478.52,339.11 478.61,334.63 478.7,337.53 478.79,335.25 478.88,338.07 478.97,340.9 479.05,339.93 479.14,338.08 479.23,339.24 479.32,341.63 479.41,342.17 479.5,343.11 479.59,344.66 479.68,340.7 479.77,344.98 479.86,347.8 479.95,347.33 480.04,345.89 480.13,346.81 480.22,349.01 480.31,350.76 480.4,350.31 480.49,354.16 480.58,354.31 480.67,351.39 480.76,354.5 480.85,353.85 480.93,353.23 481.02,355.12 481.11,357.12 481.2,354.38 481.29,357.86 481.38,360.58 481.47,359.69 481.56,361.24 481.65,364.39 481.74,363.83 481.83,365.26 481.92,369.31 482.01,367.36 482.1,368.61 482.19,369.94 482.28,372.99 482.37,371.98 482.46,372.59 482.55,373.52 482.64,376.67 482.73,375.04 482.81,379.19 482.9,378.84 482.99,377.68 483.08,382.02 483.17,382.97 483.26,381.76 483.35,385.19 483.44,386.27 483.53,386.74 483.62,386.8 483.71,392.93 483.8,392.21 483.89,393.77 483.98,395.14 484.07,396.03 484.16,397.17 484.25,396.67 484.34,399.39 484.43,398.96 484.52,399.53 484.61,402 484.7,401.7 484.78,400.52 484.87,403.18 484.96,405.33 485.05,405.39 485.14,407.34 485.23,406.55 485.32,406.56 485.41,409.54 485.5,409.48 485.59,408.48 485.68,411.28 485.77,411.08 485.86,413.3 485.95,413.68 486.04,413.9 486.13,411.13 486.22,414.91 486.31,415.61 486.4,416.16 486.49,416.18 486.58,415.66 486.66,416.71 486.75,414.88 486.84,417.56 486.93,416.47 487.02,418.28 487.11,418.25 487.2,421.06 487.29,419.8 487.38,420.04 487.47,420.53 487.56,423.08 487.65,419.72 487.74,421.47 487.83,421.77 487.92,421.77 488.01,421.95 488.1,421.4 488.19,423.58 488.28,423.37 488.37,422.12 488.46,422.47 488.54,423.27 488.63,423.68 488.72,424.16 488.81,423.42 488.9,422.14 488.99,424.92 489.08,422.07 489.17,423.02 489.26,424.67 489.35,423.38 489.44,426.13 489.53,426.56 489.62,426.17 489.71,425.28 489.8,425.3 489.89,425.62 489.98,425.02 490.07,427.7 490.16,424.76 490.25,427.06 490.34,426.27 490.42,426.07 490.51,427.01 490.6,427.33 490.69,426.98 490.78,425.9 490.87,425.28 490.96,425.37 491.05,427.22 491.14,427.04 491.23,427.24 491.32,425.73 491.41,428.63 491.5,424.92 491.59,426.93 491.68,427.32 491.77,426.08 491.86,425.32 491.95,426.15 492.04,425.37 492.13,426.44 492.22,425.22 492.31,425.23 492.39,426.8 492.48,425.07 492.57,426.54 492.66,426.65 492.75,427.82 492.84,427.11 492.93,425.91 493.02,428.32 493.11,426.09 493.2,426.45 493.29,426.54 493.38,429.38 493.47,426.99 493.56,426.14 493.65,427.76 493.74,426.8 493.83,429.63 493.92,426.15 494.01,427.68 494.1,425.93 494.19,429.03 494.27,426.14 494.36,427.21 494.45,426.02 494.54,428 494.63,427.65 494.72,424.39 494.81,427.9 494.9,427.75 494.99,427.26 495.08,428.12 495.17,425.59 495.26,424.98 495.35,427.75 495.44,428.92 495.53,425.61 495.62,425.68 495.71,426.01 495.8,425.62 495.89,427.93 495.98,427.13 496.07,428.51 496.15,428.55 496.24,425.81 496.33,427.69 496.42,424.32 496.51,426.83 496.6,427.64 496.69,426 496.78,424.85 496.87,426.35 496.96,428.29 497.05,426.47 497.14,425.32 497.23,427.45 497.32,427.76 497.41,425.72 497.5,426.71 497.59,428.13 497.68,427.3 497.77,427.72 497.86,426.52 497.95,426.73 498.04,425.54 498.12,426.04 498.21,428.63 498.3,426.38 498.39,425.81 498.48,426.31 498.57,425.66 498.66,427.46 498.75,427.91 498.84,425.77 498.93,428.04 499.02,429.29 499.11,425.65 499.2,427.65 499.29,427.17 499.38,428.42 499.47,428.33 499.56,428.14 499.65,427.23 499.74,426.4 499.83,429.44 499.92,425.96 500,428.17 500.09,428.03 500.18,426.04 500.27,426.9 500.36,428.57 500.45,424.71 500.54,427.79 500.63,426.53 500.72,426.58 500.81,425.19 500.9,427.32 500.99,425.65 501.08,427.65 501.17,425.52 501.26,427.67 501.35,427.21 501.44,424.63 501.53,426.43 501.62,426.66 501.71,424.22 501.8,426.37 501.88,427.71 501.97,425.94 502.06,428.12 502.15,425.48 502.24,425.39 502.33,427.42 502.42,427.48 502.51,426.56 502.6,426.74 502.69,427.87 502.78,426.1 502.87,429.07 502.96,427.23 503.05,427.2 503.14,427.04 503.23,426.37 503.32,428.12 503.41,426.04 503.5,426.92 503.59,427.45 503.68,428.26 503.76,428.05 503.85,426.28 503.94,427.79 504.03,426.61 504.12,425.46 504.21,425.49 504.3,424.88 504.39,427 504.48,427.89 504.57,425.48 504.66,426.29 504.75,425.35 504.84,426.61 504.93,425.25 505.02,425.64 505.11,425.78 505.2,426.02 505.29,426.13 505.38,426.31 505.47,426.31 505.56,425.43 505.65,427.14 505.73,424.56 505.82,426.66 505.91,425.4 506,426.62 506.09,426.79 506.18,424.18 506.27,426.85 506.36,427.94 506.45,427.29 506.54,426.83 506.63,423.99 506.72,426.21 506.81,425.36 506.9,427.57 506.99,426.01 507.08,425.63 507.17,424.33 507.26,427.18 507.35,425.68 507.44,426.01 507.53,427.52 507.61,426.36 507.7,426.62 507.79,428.97 507.88,425.61 507.97,425.66 508.06,426.77 508.15,427.79 508.24,424.54 508.33,425.92 508.42,425.04 508.51,424.58 508.6,426.77 508.69,425.23 508.78,426.42 508.87,426.19 508.96,426.2 509.05,426.08 509.14,424.78 509.23,425.9 509.32,426.19 509.41,426.31 509.49,425.57 509.58,426.97 509.67,426.49 509.76,425.95 509.85,426.51 509.94,425.96 510.03,426.5 510.12,423.46 510.21,424.2 510.3,425.17 510.39,425.72 510.48,423.1 510.57,425.21 510.66,425.64 510.75,425.15 510.84,425.11 510.93,423.79 511.02,425.4 511.11,422.91 511.2,426.3 511.29,424.44 511.37,426.35 511.46,423.04 511.55,425.47 511.64,425.1 511.73,423.91 511.82,423.47 511.91,426.15 512,425.2 512.09,426.35 512.18,424.51 512.27,424.72 512.36,424.93 512.45,425.24 512.54,424.82 512.63,425.16 512.72,423.59 512.81,422.35 512.9,426.27 512.99,424.07 513.08,424.33 513.17,423.17 513.26,424.75 513.34,423.71 513.43,424.65 513.52,422.51 513.61,423.1 513.7,423.29 513.79,422.56 513.88,423.16 513.97,424.58 514.06,421.93 514.15,422.16 514.24,422.55 514.33,421.08 514.42,420.66 514.51,423.25 514.6,422.75 514.69,419.85 514.78,419.85 514.87,422.26 514.96,422.64 515.05,421.85 515.14,421.53 515.22,422.67 515.31,420.6 515.4,422.01 515.49,421.77 515.58,419.08 515.67,420.83 515.76,419.94 515.85,418.95 515.94,418.57 516.03,419.79 516.12,419.18 516.21,420.07 516.3,416.82 516.39,417.98 516.48,419.95 516.57,418.46 516.66,417.44 516.75,417.57 516.84,415.79 516.93,416.19 517.02,418.36 517.1,417.66 517.19,418.96 517.28,416.95 517.37,416.92 517.46,413.66 517.55,416.7 517.64,419.23 517.73,417.35 517.82,416.24 517.91,417.78 518,417.16 518.09,416.4 518.18,415.39 518.27,415.87 518.36,416.62 518.45,414.41 518.54,415.9 518.63,415.71 518.72,416.66 518.81,415.78 518.9,413.86 518.98,416.53 519.07,414.47 519.16,413.34 519.25,414.56 519.34,413.65 519.43,415.19 519.52,412.03 519.61,412.14 519.7,413.08 519.79,415.42 519.88,414.39 519.97,411.71 520.06,410.64 520.15,412.27 520.24,410.93 520.33,413.11 520.42,412.44 520.51,412.05 520.6,411.36 520.69,413.68 520.78,410.41 520.87,409.78 520.95,412.75 521.04,412.86 521.13,410.54 521.22,411.66 521.31,413.69 521.4,409.49 521.49,410.16 521.58,410.8 521.67,407.33 521.76,409.69 521.85,410.67 521.94,409.41 522.03,410.69 522.12,410.16 522.21,408.52 522.3,409.55 522.39,409.23 522.48,406.31 522.57,407.15 522.66,407.03 522.75,407.18 522.83,407.02 522.92,405.54 523.01,407.23 523.1,404.56 523.19,407.97 523.28,406.82 523.37,408.04 523.46,406.42 523.55,405.04 523.64,403.54 523.73,406.04 523.82,404.88 523.91,405.08 524,405.3 524.09,405.62 524.18,403.69 524.27,405.79 524.36,403.07 524.45,402.92 524.54,403.57 524.63,403.8 524.71,404.06 524.8,399.47 524.89,403.56 524.98,399.45 525.07,400.53 525.16,401.63 525.25,402.5 525.34,399.33 525.43,398.21 525.52,401.61 525.61,400.56 525.7,398.54 525.79,399.31 525.88,396.86 525.97,400.17 526.06,398.47 526.15,400.74 526.24,396 526.33,399.68 526.42,401.53 526.51,398.52 526.6,398.38 526.68,395.4 526.77,398.34 526.86,397.75 526.95,396.77 527.04,395.27 527.13,397.42 527.22,395.77 527.31,396.38 527.4,397.4 527.49,396.79 527.58,396.78 527.67,398.01 527.76,395.01 527.85,398.55 527.94,394.97 528.03,395.25 528.12,396.68 528.21,397.61 528.3,396.87 528.39,395.92 528.48,395.59 528.56,396.26 528.65,395.35 528.74,397.57 528.83,396.56 528.92,399.15 529.01,396.04 529.1,397 529.19,397.92 529.28,395.88 529.37,396.68 529.46,401.65 529.55,397.88 529.64,400.09 529.73,396.8 529.82,395.03 529.91,399.32 530,398.71 530.09,399.35 530.18,398.74 530.27,398.56 530.36,397.91 530.44,401.23 530.53,398 530.62,401.63 530.71,400.25 530.8,399.31 530.89,400.18 530.98,402.66 531.07,402.61 531.16,402.56 531.25,402.28 531.34,400.96 531.43,404.5 531.52,402.44 531.61,402.55 531.7,402.91 531.79,403.33 531.88,402.24 531.97,403.91 532.06,403.74 532.15,404.45 532.24,403.18 532.32,408.36 532.41,404.55 532.5,406.93 532.59,407.33 532.68,408.61 532.77,410.16 532.86,408.64 532.95,409.43 533.04,408.33 533.13,411.27 533.22,407.98 533.31,409.88 533.4,410.97 533.49,411.98 533.58,412.51 533.67,413.39 533.76,413.12 533.85,412.92 533.94,413.66 534.03,415.72 534.12,414.81 534.21,416.1 534.29,415.3 534.38,413.68 534.47,415.66 534.56,417.23 534.65,419.23 534.74,419.38 534.83,420.15 534.92,417.69 535.01,419.93 535.1,419.36 535.19,420.56 535.28,420.05 535.37,418.78 535.46,421.52 535.55,421.35 535.64,422.1 535.73,420.3 535.82,422.71 535.91,422.99 536,423.43 536.09,423.59 536.17,421.5 536.26,419.16 536.35,423.48 536.44,421.32 536.53,422.26 536.62,423.96 536.71,423.1 536.8,423.15 536.89,423.79 536.98,420.82 537.07,425.39 537.16,422.8 537.25,422.94 537.34,424.09 537.43,423.3 537.52,422.53 537.61,423.44 537.7,423.2 537.79,422.93 537.88,426.17 537.97,422.14 538.05,421.26 538.14,422.82 538.23,422.83 538.32,425.7 538.41,424.25 538.5,425.1 538.59,424.88 538.68,423.11 538.77,425.21 538.86,424.47 538.95,426.57 539.04,424.58 539.13,424.32 539.22,425.28 539.31,425.33 539.4,422.34 539.49,425.96 539.58,425.81 539.67,425.56 539.76,423.26 539.85,422.24 539.93,424.32 540.02,425.57 540.11,425.26 540.2,423.56 540.29,425.87 540.38,423.16 540.47,423.23 540.56,424.81 540.65,424.17 540.74,424.07 540.83,423.17 540.92,426.2 541.01,423.64 541.1,425.46 541.19,425.94 541.28,424.95 541.37,425.34 541.46,426.26 541.55,426.98 541.64,426.25 541.73,423.5 541.82,422.93 541.9,424.46 541.99,423.86 542.08,425.85 542.17,425.36 542.26,424.96 542.35,426.55 542.44,426.47 542.53,425.23 542.62,425.73 542.71,426.6 542.8,424.94 542.89,425.71 542.98,424.24 543.07,425.44 543.16,425.8 543.25,425.32 543.34,425.68 543.43,426.27 543.52,425.98 543.61,424.66 543.7,424.8 543.78,424.07 543.87,427.52 543.96,426.03 544.05,426.07 544.14,425.41 544.23,426.14 544.32,426.23 544.41,424.75 544.5,425.46 544.59,427.01 544.68,424.15 544.77,424.55 544.86,426.37 544.95,424.76 545.04,426.58 545.13,424.45 545.22,426.01 545.31,426.69 545.4,426.21 545.49,426.67 545.58,425.58 545.66,425.61 545.75,425.78 545.84,426.47 545.93,429.8 546.02,425.74 546.11,428.04 546.2,425.59 546.29,424.58 546.38,425.57 546.47,426.34 546.56,426.11 546.65,426.07 546.74,426.55 546.83,426.6 546.92,427 547.01,424.58 547.1,425.98 547.19,424.87 547.28,426.26 547.37,425.9 547.46,426.19 547.55,425.47 547.63,425.06 547.72,425.74 547.81,426.79 547.9,426.92 547.99,424.13 548.08,426.36 548.17,426.38 548.26,424.37 548.35,424.81 548.44,425.46 548.53,426.54 548.62,423.38 548.71,425.64 548.8,425.47 548.89,426.3 548.98,427.73 549.07,427.64 549.16,425.65 549.25,425.67 549.34,426.4 549.43,427.48 549.51,427.79 549.6,426.52 549.69,427.82 549.78,425.12 549.87,424.84 549.96,422.92 550.05,425.16 550.14,426.85 550.23,427.17 550.32,429.8 550.41,426.86 550.5,426.39 550.59,425.08 550.68,425.49 550.77,425.52 550.86,425.96 550.95,425.45 551.04,424.55 551.13,427.43 551.22,426.74 551.31,427.81 551.39,424.37 551.48,424.74 551.57,425.36 551.66,427.6 551.75,426.03 551.84,426.5 551.93,426.15 552.02,426.46 552.11,425.65 552.2,426.7 552.29,425.27 552.38,425.98 552.47,426.59 552.56,426.38 552.65,426.76 552.74,425.33 552.83,426.57 552.92,425.93 553.01,426.71 553.1,427.97 553.19,425.23 553.27,427.48 553.36,425.49 553.45,425.79 553.54,428.17 553.63,427.36 553.72,426.87 553.81,427.22 553.9,427.64 553.99,425.44 554.08,426.56 554.17,425.84 554.26,426.78 554.35,425.94 554.44,427.15 554.53,426.32 554.62,425.62 554.71,426.24 554.8,426.82 554.89,427.54 554.98,426.1 555.07,425.9 555.16,426.59 555.24,427.18 555.33,425.68 555.42,423.46 555.51,426.65 555.6,425.91 555.69,425.87 555.78,429.24 555.87,426.16 555.96,427.11 556.05,424.72 556.14,426.59 556.23,427.19 556.32,426.55 556.41,426.11 556.5,426.94 556.59,426.36 556.68,427.85 556.77,426.56 556.86,425.41 556.95,424.05 557.04,425.49 557.12,425.99 557.21,424.95 557.3,425.13 557.39,424.4 557.48,425.06 557.57,426.44 557.66,426 557.75,426.09 557.84,425.95 557.93,426.07 558.02,427.19 558.11,428.71 558.2,427.07 558.29,428.62 558.38,426.22 558.47,426.29 558.56,428.21 558.65,425.5 558.74,425.3 558.83,426.18 558.92,424.38 559,424.14 559.09,427.67 559.18,425.1 559.27,425.78 559.36,425.8 559.45,425.21 559.54,427.1 559.63,426.96 559.72,427.22 559.81,427.14 559.9,426.39 559.99,427.94 560.08,427.47 560.17,425.61 560.26,426.35 560.35,425.83 560.44,428.43 560.53,427.16 560.62,426.9 560.71,426.22 560.8,426.93 560.88,425.18 560.97,426.32 561.06,426.23 561.15,426.23 561.24,425.43 561.33,426.78 561.42,424.95 561.51,425.71 561.6,426.06 561.69,426.18 561.78,425.63 561.87,425.06 561.96,425.14 562.05,425.79 562.14,425.21 562.23,426.08 562.32,424.77 562.41,426.23 562.5,428.58 562.59,424.66 562.68,426.07 562.77,427.53 562.85,426.41 562.94,427.19 563.03,423.77 563.12,425.6 563.21,427.96 563.3,425.53 563.39,426.61 563.48,423.95 563.57,427.35 563.66,428.71 563.75,426.05 563.84,426.52 563.93,426.6 564.02,428.57 564.11,425.62 564.2,424.18 564.29,428.28 564.38,424.74 564.47,426.73 564.56,423.37 564.65,425.56 564.73,426.27 564.82,424.78 564.91,425.44 565,426.71 565.09,425.21 565.18,426.6 565.27,428.06 565.36,423.67 565.45,426.39 565.54,426.68 565.63,425.58 565.72,427.75 565.81,427.51 565.9,426.52 565.99,426.53 566.08,425.84 566.17,424.63 566.26,426.45 566.35,425.33 566.44,425.19 566.53,427.12 566.61,425.6 566.7,426.94 566.79,424.62 566.88,425.31 566.97,425.8 567.06,427.35 567.15,425.67 567.24,426.67 567.33,424.97 567.42,425.91 567.51,426.69 567.6,424.68 567.69,424.91 567.78,426.41 567.87,424.38 567.96,426.04 568.05,426.04 568.14,425.53 568.23,426.53 568.32,426.16 568.41,425.83 568.49,423.87 568.58,423.89 568.67,425.91 568.76,423.74 568.85,425.63 568.94,425.13 569.03,424.54 569.12,425.21 569.21,422.76 569.3,425.25 569.39,426.89 569.48,424 569.57,425.97 569.66,425.83 569.75,428.91 569.84,424.3 569.93,424.5 570.02,424.51 570.11,424.29 570.2,423.46 570.29,425.45 570.38,424.31 570.46,426.24 570.55,425.78 570.64,424.14 570.73,424.9 570.82,426.87 570.91,424.91 571,425.52 571.09,426.25 571.18,424.79 571.27,425.75 571.36,427.08 571.45,426.54 571.54,423.2 571.63,426.98 571.72,424.96 571.81,424.5 571.9,424.46 571.99,426.59 572.08,425.54 572.17,424.99 572.26,424.21 572.34,425.87 572.43,426.45 572.52,423.94 572.61,423.8 572.7,424.64 572.79,425.75 572.88,424.56 572.97,424.89 573.06,424.04 573.15,426.43 573.24,424.84 573.33,425.14 573.42,426.22 573.51,424.67 573.6,424.87 573.69,425.37 573.78,424.42 573.87,426.5 573.96,424.91 574.05,424.33 574.14,424.48 574.22,423.55 574.31,426.17 574.4,426.51 574.49,424.47 574.58,424.21 574.67,422.27 574.76,423.99 574.85,425.7 574.94,423.74 575.03,425.64 575.12,426.37 575.21,421.61 575.3,424.25 575.39,423.78 575.48,423.94 575.57,422.48 575.66,424.24 575.75,423.15 575.84,425.74 575.93,426.16 576.02,422.88 576.11,422.81 576.19,423.92 576.28,424.24 576.37,424.3 576.46,425.29 576.55,422.7 576.64,423.71 576.73,423.88 576.82,424.02 576.91,423.24 577,423.87 577.09,423.58 577.18,425.8 577.27,423.85 577.36,421.9 577.45,425.04 577.54,424.59 577.63,423.4 577.72,423.33 577.81,423.72 577.9,426.32 577.99,423.86 578.07,425.82 578.16,425.41 578.25,423.82 578.34,424.8 578.43,423.53 578.52,420.82 578.61,423.58 578.7,423.65 578.79,425.53 578.88,425.25 578.97,425.74 579.06,425.14 579.15,425.8 579.24,425.3 579.33,424.79 579.42,425.72 579.51,426.22 579.6,426.16 579.69,424.07 579.78,424.54 579.87,423.43 579.95,423.42 580.04,425.04 580.13,423.88 580.22,426.34 580.31,422.04 580.4,423.32 580.49,424.97 580.58,426.08 580.67,424.31 580.76,426.93 580.85,425.68 580.94,423.93 581.03,424.72 581.12,425.4 581.21,423.74 581.3,426.06 581.39,424.55 581.48,425.47 581.57,425.89 581.66,424.39 581.75,426.09 581.83,422.76 581.92,425.65 582.01,422.69 582.1,426.27 582.19,424.32 582.28,426.42 582.37,426.6 582.46,424.88 582.55,424.3 582.64,426.57 582.73,423.74 582.82,426.04 582.91,424.99 583,424.71 583.09,424.48 583.18,427.25 583.27,423.32 583.36,424.56 583.45,425.71 583.54,426.41 583.63,427.2 583.72,426.83 583.8,424.64 583.89,425.67 583.98,426.59 584.07,425.91 584.16,423.51 584.25,425.71 584.34,426.01 584.43,423.79 584.52,424.83 584.61,425.32 584.7,426.09 584.79,427.19 584.88,426.76 584.97,425.98 585.06,425.7 585.15,425.06 585.24,424.85 585.33,425.25 585.42,425.28 585.51,426.72 585.6,428.07 585.68,426.21 585.77,426.74 585.86,426.42 585.95,426.02 586.04,427.16 586.13,427.03 586.22,425.89 586.31,425.66 586.4,426.57 586.49,425.26 586.58,426.1 586.67,427.03 586.76,425.83 586.85,423.72 586.94,426.68 587.03,424.57 587.12,424.34 587.21,424.21 587.3,426.89 587.39,423.64 587.48,425.83 587.56,426.26 587.65,426.24 587.74,425.3 587.83,425.94 587.92,426.21 588.01,424.54 588.1,426.84 588.19,427.22 588.28,425.12 588.37,425.23 588.46,424.78 588.55,427.28 588.64,424.81 588.73,425.5 588.82,424.04 588.91,427.5 589,425.82 589.09,426.4 589.18,427.91 589.27,426.91 589.36,424.8 589.44,426.63 589.53,426.93 589.62,425.11 589.71,424.97 589.8,424.98 589.89,427.02 589.98,426.19 590.07,424.94 590.16,426.88 590.25,426.99 590.34,425.19 590.43,424.35 590.52,427.46 590.61,429.13 590.7,427.81 590.79,427.32 590.88,426.32 590.97,425.45 591.06,426.33 591.15,426.97 591.24,425.99 591.33,427.27 591.41,426.23 591.5,426.91 591.59,423.11 591.68,425.24 591.77,427.14 591.86,427.33 591.95,426.69 592.04,428.08 592.13,427.03 592.22,427.04 592.31,425.18 592.4,426.69 592.49,427.11 592.58,427.74 592.67,427.56 592.76,426.29 592.85,426.46 592.94,424.92 593.03,426.94 593.12,425.01 593.21,425.93 593.29,426.23 593.38,428.53 593.47,427.71 593.56,425.38 593.65,424.63 593.74,426 593.83,425.36 593.92,426.7 594.01,426.66 594.1,427 594.19,425.12 594.28,425.85 594.37,426.51 594.46,426.62 594.55,425.61 594.64,425.88 594.73,427.2 594.82,424.29 594.91,425.96 595,426.24 595.09,424.56 595.17,425.08 595.26,426.36 595.35,425.65 595.44,427.49 595.53,427 595.62,428.86 595.71,424.87 595.8,428.44 595.89,425.49 595.98,427.22 596.07,427.4 596.16,426.5 596.25,425.97 596.34,425.58 596.43,424.25 596.52,425.87 596.61,425.27 596.7,426.97 596.79,425.47 596.88,426.11 596.97,426.82 597.06,426.4 597.14,426.36 597.23,426.07 597.32,425.83 597.41,426.87 597.5,427.14 597.59,425.44 597.68,428.24 597.77,427 597.86,424.52 597.95,429.4 598.04,427.09 598.13,425.51 598.22,428.19 598.31,423.33 598.4,429.27 598.49,424.66 598.58,424.52 598.67,425.26 598.76,426.56 598.85,425.9 598.94,427.34 599.02,425.38 599.11,427.59 599.2,426.63 599.29,425.17 599.38,427.59 599.47,426.73 599.56,426.13 599.65,427.86 599.74,424.99 599.83,425.93 599.92,428.06 600.01,426.38 600.1,427.21 600.19,427.08 600.28,426.24 600.37,427.14 600.46,425.22 600.55,427.13 600.64,425.2 600.73,426.38 600.82,425.35 600.9,426.95 600.99,426.91 601.08,427.65 601.17,425.67 601.26,425.26 601.35,423.91 601.44,424.86 601.53,426.05 601.62,426.58 601.71,425.89 601.8,426.37 601.89,424.66 601.98,425.26 602.07,427.3 602.16,427.13 602.25,424.78 602.34,425.99 602.43,426.61 602.52,424.99 602.61,426.79 602.7,426.67 602.78,426.87 602.87,428.59 602.96,425.36 603.05,427.73 603.14,427 603.23,427.2 603.32,425.52 603.41,426.43 603.5,426.33 603.59,428.28 603.68,426.45 603.77,428.05 603.86,426 603.95,425.94 604.04,426.38 604.13,424.02 604.22,425.75 604.31,425.68 604.4,426.2 604.49,426.58 604.58,425.25 604.67,425.1 604.75,427.85 604.84,425.15 604.93,425.77 605.02,425.26 605.11,425.83 605.2,427.79 605.29,427.71 605.38,424.28 605.47,426.08 605.56,427.99 605.65,425.97 605.74,426.78 605.83,428.48 605.92,428.99 606.01,428.2 606.1,426.06 606.19,426.43 606.28,426.66 606.37,426.05 606.46,425.68 606.55,428.78 606.63,426.72 606.72,427.32 606.81,427.79 606.9,427 606.99,426.52 607.08,426.68 607.17,428.04 607.26,426.93 607.35,424.07 607.44,427.59 607.53,428.31 607.62,426.06 607.71,425.7 607.8,425.85 607.89,427.66 607.98,425.24 608.07,427.28 608.16,427.68 608.25,427.08 608.34,426.51 608.43,425.57 608.51,425.67 608.6,426.41 608.69,425.32 608.78,426.29 608.87,425.36 608.96,428 609.05,428.19 609.14,425.5 609.23,427.98 609.32,426.74 609.41,426.5 609.5,426.95 609.59,426.91 609.68,424.8 609.77,429.29 609.86,425.38 609.95,423.77 610.04,426.37 610.13,426.42 610.22,425.56 610.31,424.3 610.39,427.76 610.48,426.3 610.57,426.61 610.66,425.76 610.75,426.21 610.84,425.64 610.93,426.88 611.02,426.34 611.11,427.17 611.2,427.16 611.29,426.56 611.38,426.56 611.47,427.74 611.56,424.6 611.65,426.56 611.74,427.99 611.83,425.14 611.92,427.26 612.01,425.82 612.1,426.42 612.19,426.12 612.28,426.21 612.36,427.06 612.45,426.36 612.54,424.08 612.63,428.97 612.72,426.33 612.81,425.91 612.9,427.61 612.99,427.98 613.08,423.94 613.17,426.83 613.26,424.03 613.35,425.8 613.44,426.32 613.53,425.87 613.62,425.68 613.71,425.06 613.8,425.91 613.89,426.25 613.98,426.21 614.07,424.87 614.16,425.48 614.24,427.56 614.33,427.14 614.42,426.04 614.51,427.13 614.6,426.85 614.69,427.51 614.78,426.72 614.87,425.93 614.96,425.28 615.05,426.41 615.14,424.04 615.23,426.51 615.32,422.76 615.41,425.27 615.5,425.85 615.59,426.99 615.68,429.65 615.77,426.6 615.86,426.22 615.95,424.22 616.04,428 616.12,424.24 616.21,426.71 616.3,425.59 616.39,429.33 616.48,426.26 616.57,426.82 616.66,425.64 616.75,426.32 616.84,427.73 616.93,425.34 617.02,425.63 617.11,425.74 617.2,425.27 617.29,425.17 617.38,426.45 617.47,427.98 617.56,428.01 617.65,424.88 617.74,425.62 617.83,426.31 617.92,426.93 618.01,426.39 618.09,426.4 618.18,426.82 618.27,427.23 618.36,423.95 618.45,426.17 618.54,427.13 618.63,427.92 618.72,427.26 618.81,425.61 618.9,425.57 618.99,426.68 619.08,426.37 619.17,426.78 619.26,427.7 619.35,424.95 619.44,426.01 619.53,423.6 619.62,427.3 619.71,426.59 619.8,425.43 619.89,426.72 619.97,428.03 620.06,427.52 620.15,426.32 620.24,426.05 620.33,426.55 620.42,425.29 620.51,425.3 620.6,426.07 620.69,426.41 620.78,426.73 620.87,425.81 620.96,425.39 621.05,426.37 621.14,425.93 621.23,426.81 621.32,428.06 621.41,427.59 621.5,425.57 621.59,425.93 621.68,424.62 621.77,426.38 621.85,425.46 621.94,424.93 622.03,425.31 622.12,427.14 622.21,426.66 622.3,426.3 622.39,427.58 622.48,425.9 622.57,425.28 622.66,427 622.75,424.19 622.84,426.78 622.93,426.68 623.02,426.72 623.11,427.26 623.2,425.97 623.29,426.43 623.38,424.55 623.47,425.76 623.56,425.84 623.65,426.71 623.73,428.07 623.82,426.56 623.91,427.43 624,425.36 624.09,426.49 624.18,424.55 624.27,425.61 624.36,425.5 624.45,426.19 624.54,426.22 624.63,425.71 624.72,425.4 624.81,427.27 624.9,425.89 624.99,423.46 625.08,426.56 625.17,426.75 625.26,427.25 625.35,428.12 625.44,425.1 625.53,426.39 625.62,426.12 625.7,424.35 625.79,423.59 625.88,427.48 625.97,425.26 626.06,425.75 626.15,426.01 626.24,425.91 626.33,426.49 626.42,424.64 626.51,425.76 626.6,426.07 626.69,425.04 626.78,425.44 626.87,425.94 626.96,426.09 627.05,424.45 627.14,425.88 627.23,426.57 627.32,427.44 627.41,426.86 627.5,427.67 627.58,426.34 627.67,426.17 627.76,428.81 627.85,426.45 627.94,425.72 628.03,426.28 628.12,427.56 628.21,425.02 628.3,427.26 628.39,427.87 628.48,427.71 628.57,426.49 628.66,425.35 628.75,425.14 628.84,426.23 628.93,427.84 629.02,427.22 629.11,427.5 629.2,426.68 629.29,428.5 629.38,426.35 629.46,425.74 629.55,426.65 629.64,425.95 629.73,427.55 629.82,428.14 629.91,427.21 630,425.15 630.09,425.3 630.18,427 630.27,425.1 630.36,426.85 630.45,424.75 630.54,425.93 630.63,427 630.72,425.57 630.81,427.37 630.9,427.55 630.99,428.14 631.08,426.19 631.17,426.55 631.26,426.57 631.34,426.95 631.43,424.84 631.52,426.97 631.61,427.31 631.7,425.06 631.79,424.86 631.88,426.1 631.97,428.48 632.06,427.17 632.15,425.79 632.24,426.47 632.33,424.71 632.42,428.05 632.51,425.71 632.6,427.21 632.69,424.98 632.78,426.58 632.87,425.31 632.96,427.23 633.05,428.11 633.14,427.76 633.23,427.19 633.31,427.67 633.4,425.12 633.49,424.96 633.58,426.18 633.67,427.68 633.76,426.63 633.85,427.28 633.94,424.83 634.03,426.14 634.12,425.94 634.21,426.96 634.3,428.8 634.39,427.38 634.48,427.78 634.57,426.08 634.66,426.39 634.75,427.42 634.84,426.95 634.93,424.71 635.02,427.6 635.11,427.56 635.19,426.77 635.28,427.31 635.37,427 635.46,425.9 635.55,424.53 635.64,428.54 635.73,426.53 635.82,426.46 635.91,426.61 636,426.72 636.09,426.9 636.18,425.36 636.27,427.04 636.36,426.66 636.45,426.51 636.54,426.39 636.63,426.71 636.72,425.37 636.81,426.52 636.9,426.32 636.99,426.57 637.07,427.66 637.16,427.47 637.25,427.72 637.34,426.3 637.43,427.33 637.52,427.73 637.61,426.25 637.7,425.92 637.79,428.53 637.88,424.59 637.97,426.48 638.06,426.64 638.15,425.3 638.24,426.44 638.33,427.21 638.42,424.01 638.51,427.75 638.6,426.64 638.69,425.56 638.78,427.75 638.87,426.64 638.95,426.09 639.04,423.78 639.13,427.55 639.22,426.58 639.31,425.78 639.4,426.44 639.49,427.91 639.58,426.07 639.67,426.41 639.76,426.02 639.85,425.24 639.94,425.38 640.03,426.07 640.12,426.18 640.21,427.79 640.3,426.69 640.39,426.29 640.48,427 640.57,426.43 640.66,427.48 640.75,424.78 640.84,424.08 640.92,426.99 641.01,426.08 641.1,426.81 641.19,425.1 641.28,426.05 641.37,426.46 641.46,426.8 641.55,426.4 641.64,427.69 641.73,425.77 641.82,427.36 641.91,425.94 642,426.4 642.09,425.3 642.18,426.57 642.27,425.38 642.36,427.6 642.45,425.85 642.54,426.81 642.63,426.33 642.72,426.47 642.8,425.48 642.89,428.86 642.98,426.18 643.07,428.26 643.16,425.17 643.25,428.81 643.34,427.7 643.43,428.47 643.52,424.68 643.61,428.03 643.7,426.43 643.79,427.17 643.88,428.62 643.97,426.94 644.06,425.8 644.15,426.77 644.24,425.48 644.33,426.98 644.42,426.55 644.51,427 644.6,426.17 644.68,424.39 644.77,426.15 644.86,426.34 644.95,427.27 645.04,427.43 645.13,424.89 645.22,427.84 645.31,427.61 645.4,426.68 645.49,427.06 645.58,424.33 645.67,429.27 645.76,426.16 645.85,425.76 645.94,427.85 646.03,427.31 646.12,426.08 646.21,424.71 646.3,427.63 646.39,428.38 646.48,425.46 646.57,424.83 646.65,426.96 646.74,429.11 646.83,424.92 646.92,426.8 647.01,425.29 647.1,426.63 647.19,427.01 647.28,427.1 647.37,424.89 647.46,424.94 647.55,429.02 647.64,427.65 647.73,424.55 647.82,427 647.91,428.14 648,426.58 648.09,426.71 648.18,426.7 648.27,427.13 648.36,426.94 648.45,427.11 648.53,426.2 648.62,427.52 648.71,426.92 648.8,426.75 648.89,425.1 648.98,426.16 649.07,426.71 649.16,425.98 649.25,426.13 649.34,425.35 649.43,426.01 649.52,424.54 649.61,425.05 649.7,426.64 649.79,427.07 649.88,425.58 649.97,426 650.06,426.7 650.15,428.28 650.24,428.69 650.33,426.2 650.41,425.72 650.5,425.68 650.59,428.07 650.68,425.41 650.77,427.21 650.86,426.15 650.95,426.12 651.04,427.52 651.13,427.28 651.22,428.97 651.31,427.65 651.4,428.66 651.49,426.1 651.58,426.53 651.67,425.56 651.76,426.2 651.85,427.33 651.94,426.21 652.03,427.05 652.12,425.91 652.21,426.25 652.29,427.74 652.38,426.6 652.47,426.54 652.56,426.96 652.65,425.59 652.74,424.65 652.83,427.03 652.92,427.01 653.01,429.18 653.1,426.76 653.19,427.11 653.28,429.08 653.37,426.28 653.46,425.94 653.55,427.45 653.64,427.04 653.73,427.72 653.82,425.74 653.91,428.35 654,426.97 654.09,424.39 654.18,426.56 654.26,426.08 654.35,426.79 654.44,427.96 654.53,426.66 654.62,426.16 654.71,427.79 654.8,426.23 654.89,425.2 654.98,425.4 655.07,428.43 655.16,427.74 655.25,428.47 655.34,425.4 655.43,425.93 655.52,425.82 655.61,427.63 655.7,427.96 655.79,426.54 655.88,426.51 655.97,427.6 656.06,426.47 656.14,425.89 656.23,426.37 656.32,427.82 656.41,429.04 656.5,426.93 656.59,426.44 656.68,426.93 656.77,427.12 656.86,427.42 656.95,425.82 657.04,426.69 657.13,426.49 657.22,427.74 657.31,427.34 657.4,426.45 657.49,427.78 657.58,428.08 657.67,427.01 657.76,425.26 657.85,426.42 657.94,424.97 658.02,426.79 658.11,426.99 658.2,428.23 658.29,427.3 658.38,425 658.47,426.27 658.56,425.8 658.65,425.84 658.74,426.65 658.83,426.88 658.92,426.51 659.01,425.88 659.1,426.12 659.19,426.08 659.28,426.47 659.37,427.53 659.46,426.95 659.55,427.72 659.64,425.5 659.73,429.05 659.82,426.9 659.9,423.92 659.99,427.04 660.08,427.95 660.17,426.67 660.26,425.18 660.35,426.84 660.44,425.95 660.53,426.54 660.62,427.08 660.71,423.05 660.8,426.57 660.89,427.27 660.98,427.22 661.07,426.22 661.16,426.19 661.25,425.78 661.34,426.5 661.43,428.29 661.52,426.05 661.61,427.01 661.7,426.99 661.79,428.36 661.87,427.32 661.96,427.49 662.05,426.7 662.14,428.32 662.23,426.61 662.32,426.52 662.41,427.94 662.5,427.38 662.59,427.65 662.68,425.63 662.77,429.56 662.86,427.06 662.95,428.57 663.04,427.16 663.13,425.7 663.22,427.39 663.31,426.51 663.4,427.64 663.49,424.46 663.58,425.63 663.67,425.38 663.75,428.19 663.84,427.93 663.93,425.44 664.02,426.9 664.11,426.97 664.2,426.29 664.29,428.11 664.38,425.79 664.47,426.66 664.56,426.13 664.65,427.44 664.74,426.09 664.83,427.48 664.92,425.59 665.01,425.39 665.1,425.64 665.19,426.09 665.28,425.96 665.37,429.77 665.46,425.73 665.55,427 665.63,426.58 665.72,427.01 665.81,428.27 665.9,427.3 665.99,425.93 666.08,425.07 666.17,427.4 666.26,427.72 666.35,425.03 666.44,427.7 666.53,424.32 666.62,426.63 666.71,427.7 666.8,425.57 666.89,424.76 666.98,428.33 667.07,424.91 667.16,427.02 667.25,425 667.34,427.13 667.43,428.5 667.52,426.12 667.6,425.64 667.69,424.3 667.78,424.73 667.87,425.9 667.96,426.97 668.05,427.3 668.14,427.04 668.23,427.65 668.32,427.02 668.41,429.61 668.5,426.5 668.59,426.74 668.68,423.77 668.77,425.84 668.86,427.25 668.95,426.06 669.04,428.11 669.13,427.4 669.22,428.84 669.31,425.07 669.4,426.03 669.48,428.05 669.57,426.78 669.66,425.63 669.75,426.15 669.84,426.28 669.93,427.69 670.02,427.44 670.11,426.61 670.2,425.66 670.29,427.66 670.38,428 670.47,425.41 670.56,427.78 670.65,425.49 670.74,426.44 670.83,425.71 670.92,424.73 671.01,425.93 671.1,425.84 671.19,427.77 671.28,427.52 671.36,425.99 671.45,424.97 671.54,425.13 671.63,424.08 671.72,426.37 671.81,426.5 671.9,425.58 671.99,426.71 672.08,426.8 672.17,427.93 672.26,425.6 672.35,427.96 672.44,426.15 672.53,428.35 672.62,425.48 672.71,427.91 672.8,425.77 672.89,428.55 672.98,427.24 673.07,425.39 673.16,427.66 673.24,426.66 673.33,427.28 673.42,429.38 673.51,426.39 673.6,426.25 673.69,428.01 673.78,426.09 673.87,427.65 673.96,427.89 674.05,426.74 674.14,427.52 674.23,424.13 674.32,428.52 674.41,425.9 674.5,425.62 674.59,429.01 674.68,428.73 674.77,426.11 674.86,427.3 674.95,426.31 675.04,425.45 675.13,427.18 675.21,427.97 675.3,429.8 675.39,426.52 675.48,427.82 675.57,426.4 675.66,426.49 675.75,428.34 675.84,424.79 675.93,425.52 676.02,425.79 676.11,428.11 676.2,427.23 676.29,427.39 676.38,427.24 676.47,428.05 676.56,426.27 676.65,426.5 676.74,426.35 676.83,427.34 676.92,425.29 677.01,426.55 677.09,429.8 677.18,427.5 677.27,426.83 677.36,425.67 677.45,427.11 677.54,427.06 677.63,427.53 677.72,426.01 677.81,427.29 677.9,427.46 677.99,427.62 678.08,426.14 678.17,427.39 678.26,428.69 678.35,426.07 678.44,427.58 678.53,426.37 678.62,426.35 678.71,425.41 678.8,425.59 678.89,427.44 678.97,426.97 679.06,428.26 679.15,424.87 679.24,426.28 679.33,425.2 679.42,427.15 679.51,429.13 679.6,425.04 679.69,426.69 679.78,426.64 679.87,426.73 679.96,426.06 680.05,426.19 680.14,428.61 680.23,425.56 680.32,427.4 680.41,427.33 680.5,424.83 680.59,425.75 680.68,427.19 680.77,428.92 680.85,426.62 680.94,426.19 681.03,426.9 681.12,428.23 681.21,427.71 681.3,428.24 681.39,426.56 681.48,425.87 681.57,425.64 681.66,427.65 681.75,426.54 681.84,426.18 681.93,427.4 682.02,426.98 682.11,424.39 682.2,426.58 682.29,425.81 682.38,427.31 682.47,426.77 682.56,428.77 682.65,426.85 682.74,425.46 682.82,424.43 682.91,425.46 683,426.04 683.09,426.76 683.18,427.51 683.27,427.01 683.36,426.13 683.45,427.72 683.54,425.76 683.63,427.95 683.72,428.86 683.81,427.99 683.9,428.73 683.99,428.4 684.08,425.54 684.17,427.06 684.26,426.59 684.35,425.52 684.44,425.4 684.53,427.41 684.62,425.32 684.7,426.4 684.79,426.84 684.88,426.34 684.97,428.47 685.06,427.74 685.15,426.97 685.24,426.15 685.33,427.27 685.42,426.99 685.51,425.74 685.6,425.24 685.69,425.98 685.78,425.41 685.87,427.31 685.96,427.2 686.05,426.49 686.14,427.2 686.23,427.44 686.32,424.97 686.41,427.09 686.5,427.96 686.58,426.31 686.67,424.77 686.76,426.77 686.85,425.46 686.94,427.36 687.03,427.43 687.12,427.65 687.21,427.03 687.3,424.77 687.39,428.19 687.48,425 687.57,428.02 687.66,427.14 687.75,425.92 687.84,426.16 687.93,426.55 688.02,428.76 688.11,426.47 688.2,428.05 688.29,423.95 688.38,427.13 688.46,426.67 688.55,428.19 688.64,427.43 688.73,428.36 688.82,425.77 688.91,427.19 689,426.25 689.09,427.67 689.18,427.46 689.27,425.42 689.36,428 689.45,428.95 689.54,426.43 689.63,428.2 689.72,427.4 689.81,425.86 689.9,427.83 689.99,425.9 690.08,427.68 690.17,425.2 690.26,425.39 690.35,427.44 690.43,427.15 690.52,427.86 690.61,426.68 690.7,425.6 690.79,428.56 690.88,425.86 690.97,428.42 691.06,427.89 691.15,428.95 691.24,424.51 691.33,426.85 691.42,426.64 691.51,427.69 691.6,425.7 691.69,429.32 691.78,426.89 691.87,424.41 691.96,427.36 692.05,426.91 692.14,426.16 692.23,427.85 692.31,426.9 692.4,425.83 692.49,426.71 692.58,426.51 692.67,427.33 692.76,426.57 692.85,426.87 692.94,425.28 693.03,426.11 693.12,427.22 693.21,429.73 693.3,426.12 693.39,426.08 693.48,427.99 693.57,429.22 693.66,428.25 693.75,425.89 693.84,428.16 693.93,427.47 694.02,426.7 694.11,425.56 694.19,426.97 694.28,427.07 694.37,427.58 694.46,425.1 694.55,425.74 694.64,427.07 694.73,428.55 694.82,427.86 694.91,426.3 695,427.79 695.09,425.95 695.18,426.55 695.27,426.63 695.36,426.22 695.45,426.4 695.54,427.94 695.63,427.34 695.72,424.3 695.81,428.35 695.9,427.52 695.99,425.76 696.08,427.16 696.16,427.9 696.25,428.49 696.34,426.37 696.43,425.82 696.52,425.39 696.61,426.92 696.7,425.79 696.79,428.16 696.88,426.8 696.97,427.76 697.06,426.79 697.15,426.13 697.24,425.77 697.33,428.12 697.42,425.55 697.51,427.54 697.6,428.17 697.69,427.19 697.78,428.67 697.87,426.99 697.96,426.67 698.04,427.23 698.13,426.39 698.22,427.36 698.31,427 698.4,428.65 698.49,426.96 698.58,427.98 698.67,427.52 698.76,427.12 698.85,426.79 698.94,428.89 699.03,428.8 699.12,427.36 699.21,426.48 699.3,426.61 699.39,426 699.48,425.54 699.57,426.46 699.66,427.05 699.75,428.2 699.84,428.1 699.92,427.56 700.01,426.72 700.1,426.78 700.19,427.03 700.28,427.21 700.37,426.31 700.46,426.8 700.55,426.7 700.64,426.69 700.73,427.66 700.82,428.21 700.91,426.48 701,426.57 701.09,427.29 701.18,427.52 701.27,424.45 701.36,427.91 701.45,427.3 701.54,426.75 701.63,428.37 701.72,426.92 701.8,425 701.89,425.99 701.98,426.33 702.07,426.38 702.16,426.93 702.25,425.97 702.34,427.24 702.43,427.54 702.52,426.95 702.61,426.03 702.7,426.69 702.79,426.3 702.88,429.37 702.97,425.71 703.06,424.4 703.15,425.55 703.24,427.43 703.33,428.04 703.42,426.76 703.51,428.2 703.6,426.25 703.69,427.68 703.77,425.98 703.86,425.53 703.95,429.4 704.04,426.75 704.13,427.88 704.22,428.69 704.31,427.79 704.4,427.34 704.49,425.91 704.58,428.82 704.67,425.89 704.76,424.79 704.85,426.41 704.94,426.47 705.03,427.11 705.12,428.44 705.21,426.49 705.3,426.66 705.39,426.27 705.48,424.18 705.57,426.27 705.65,426.62 705.74,425.33 705.83,428.64 705.92,428.41 706.01,427.54 706.1,427.86 706.19,426.32 706.28,427.48 706.37,425.13 706.46,425.38 706.55,426.24 706.64,427.56 706.73,426.42 706.82,426.2 706.91,428.34 707,426.73 707.09,426.32 707.18,426.88 707.27,425.34 707.36,425.75 707.45,428.07 707.53,426.99 707.62,428.08 707.71,426.47 707.8,428.12 707.89,426.08 707.98,426.7 708.07,426.03 708.16,427.31 708.25,428.8 708.34,425.13 708.43,427.34 708.52,425.58 708.61,426.66 708.7,426.38 708.79,425.07 708.88,426.76 708.97,425.56 709.06,428.84 709.15,426.16 709.24,427.43 709.33,427.31 709.41,427.15 709.5,426.76 709.59,425.27 709.68,429.27 709.77,427.11 709.86,427.98 709.95,425.84 710.04,427.65 710.13,426.65 710.22,427.62 710.31,426.41 710.4,426.02 710.49,427.63 710.58,427.12 710.67,428.79 710.76,426.83 710.85,426.2 710.94,427.81 711.03,425.91 711.12,429.54 711.21,429.29 711.3,428.76 711.38,427.74 711.47,427.17 711.56,427.28 711.65,427.27 711.74,426.37 711.83,427.73 711.92,428.63 712.01,428.61 712.1,424.79 712.19,429.8 712.28,427.4 712.37,425.54 712.46,426.65 712.55,428.15 712.64,427.2 712.73,426.22 712.82,425.83 712.91,428.23 713,426.34 713.09,426.92 713.18,425.95 713.26,425.63 713.35,427.6 713.44,428.87 713.53,426.77 713.62,425.2 713.71,426.44 713.8,426.96 713.89,424.49 713.98,428.41 714.07,426.2 714.16,427.87 714.25,427.17 714.34,427.13 714.43,425.51 714.52,428.3 714.61,427.84 714.7,429.05 714.79,426.68 714.88,427.76 714.97,426.76 715.06,428.46 715.14,427.65 715.23,426.06 715.32,427.44 715.41,426.53 715.5,426.64 715.59,427.65 715.68,429.02 715.77,426.13 715.86,427.06 715.95,426.13 716.04,429.54 716.13,429.14 716.22,429.69 716.31,428.25 716.4,426.07 716.49,426.61 716.58,427.3 716.67,427.11 716.76,426.4 716.85,427.61 716.94,426.81 717.03,427.11 717.11,429.76 717.2,427.71 717.29,425.72 717.38,427.72 717.47,427.44 717.56,427.96 717.65,427.83 717.74,426 717.83,427.58 717.92,428.44 718.01,429.8 718.1,427.93 718.19,429.52 718.28,429.36 718.37,426.38 718.46,426.48 718.55,429.47 718.64,426.32 718.73,426.77 718.82,428.18 718.91,426.46 718.99,429.15 719.08,428.67 719.17,428.94 719.26,428.56 719.35,426.3 719.44,428.82 719.53,428.61 719.62,428.39 719.71,427.08 719.8,427.69 719.89,426.33 719.98,428.12 720.07,428.78 720.16,427.89 720.25,427.27 720.34,428.38 720.43,427 720.52,425.26 720.61,427.99 720.7,427.28 720.79,425.79 720.87,428.07 720.96,428.3 721.05,428.58 721.14,426.89 721.23,426.76 721.32,427.51 721.41,427.3 721.5,425.9 721.59,426.37 721.68,428.95 721.77,427.37 721.86,427.24 721.95,426.54 722.04,427.62 722.13,428.1 722.22,427.89 722.31,429.39 722.4,427.4 722.49,428.06 722.58,426.85 722.67,428.55 722.75,427.88 722.84,428.5 722.93,428.6 723.02,426.59 723.11,427.92 723.2,426.89 723.29,428.67 723.38,427.29 723.47,429.32 723.56,427.95 723.65,427.98 723.74,426.75 723.83,427.2 723.92,427.61 724.01,426.46 724.1,427.2 724.19,426.81 724.28,426.55 724.37,427.5 724.46,427.76 724.55,427.05 724.64,427.9 724.72,426.99 724.81,426.17 724.9,426.46 724.99,427.87 725.08,428.89 725.17,427.5 725.26,427.58 725.35,426.18 725.44,427.87 725.53,427.68 725.62,426.61 725.71,427.99 725.8,427.63 725.89,425.5 725.98,425.76 726.07,426.73 726.16,427.15 726.25,428.55 726.34,426.82 726.43,427.39 726.52,427.21 726.6,428.05 726.69,427.47 726.78,427.67 726.87,427.1 726.96,425.84 727.05,427.05 727.14,429.35 727.23,428.57 727.32,429.26 727.41,428.37 727.5,426.84" fill="none" stroke="#ff0000" stroke-width="1.5" stroke-linejoin="round"/>
<rect x="459" y="325.5" width="268.5" height="104.3" fill="none" stroke="#333" stroke-width="1"/>
<line x1="459.6" y1="325.5" x2="459.6" y2="429.8" stroke="#777" stroke-width="1.6"/>
<path d="M454.8,429.8H463.2M457.5,414.9H462M454.8,400H463.2M457.5,385.1H462M454.8,370.2H463.2M457.5,355.3H462M454.8,340.4H463.2M457.5,325.5H462M459,428.3V433.3M467.95,428V431.6M476.9,428V431.6M485.85,428V431.6M494.8,428V431.6M503.75,428.3V433.3M512.7,428V431.6M521.65,428V431.6M530.6,428V431.6M539.55,428V431.6M548.5,428.3V433.3M557.45,428V431.6M566.4,428V431.6M575.35,428V431.6M584.3,428V431.6M593.25,428.3V433.3M602.2,428V431.6M611.15,428V431.6M620.1,428V431.6M629.05,428V431.6M638,428.3V433.3M646.95,428V431.6M655.9,428V431.6M664.85,428V431.6M673.8,428V431.6M682.75,428.3V433.3M691.7,428V431.6M700.65,428V431.6M709.6,428V431.6M718.55,428V431.6M727.5,428.3V433.3" stroke="#333" stroke-width="1" fill="none"/>
<text x="451.6" y="434.6" font-size="13.8" text-anchor="end" fill="#222">0</text>
<text x="451.6" y="404.8" font-size="13.8" text-anchor="end" fill="#222">200</text>
<text x="451.6" y="375" font-size="13.8" text-anchor="end" fill="#222">400</text>
<text x="451.6" y="345.2" font-size="13.8" text-anchor="end" fill="#222">600</text>
<text x="459" y="448.5" font-size="13.8" text-anchor="middle" fill="#222">800</text>
<text x="503.75" y="448.5" font-size="13.8" text-anchor="middle" fill="#222">1000</text>
<text x="548.5" y="448.5" font-size="13.8" text-anchor="middle" fill="#222">1200</text>
<text x="593.25" y="448.5" font-size="13.8" text-anchor="middle" fill="#222">1400</text>
<text x="638" y="448.5" font-size="13.8" text-anchor="middle" fill="#222">1600</text>
<text x="682.75" y="448.5" font-size="13.8" text-anchor="middle" fill="#222">1800</text>
<text x="727.5" y="448.5" font-size="13.8" text-anchor="middle" fill="#222">2000</text>
<text transform="translate(420.4,436.23) rotate(-90)" font-size="14" fill="#222" textLength="110.31" lengthAdjust="spacingAndGlyphs">PL Intensity [ a.u.]</text>
<text x="532.74" y="460.9" font-size="13.8" fill="#222" textLength="110.58" lengthAdjust="spacingAndGlyphs">Wavelength[ nm ]</text>
<text x="483.44" y="340.7" font-size="16.6" fill="#111" textLength="42.99" lengthAdjust="spacingAndGlyphs">GaAs</text>
<text x="500.59" y="385.8" font-size="16.4" fill="#111" textLength="14.54" lengthAdjust="spacingAndGlyphs">In</text>
<text x="515.15" y="390.6" font-size="11.6" fill="#111">0.33</text>
<text x="537.53" y="385.8" font-size="16.6" fill="#111" textLength="43.3" lengthAdjust="spacingAndGlyphs">GaAs</text>
<text x="621.34" y="353.5" font-size="18.2" fill="#111" textLength="87.5" lengthAdjust="spacingAndGlyphs">Reference</text>
<text x="18.82" y="491" font-size="21" fill="#111" textLength="27.16" lengthAdjust="spacingAndGlyphs">(d)</text>
<rect x="67.3" y="514.5" width="662.4" height="163.1" fill="url(#gd)"/>
<path d="M67.3,664.01H729.7M67.3,636.83H729.7M67.3,609.64H729.7M67.3,582.46H729.7M67.3,555.27H729.7M67.3,528.09H729.7" stroke="#dedede" stroke-width="1" fill="none"/>
<path d="M89.38,514.5V677.6M111.46,514.5V677.6M133.54,514.5V677.6M155.62,514.5V677.6M199.78,514.5V677.6M221.86,514.5V677.6M243.94,514.5V677.6M266.02,514.5V677.6M310.18,514.5V677.6M332.26,514.5V677.6M354.34,514.5V677.6M376.42,514.5V677.6M420.58,514.5V677.6M442.66,514.5V677.6M464.74,514.5V677.6M486.82,514.5V677.6M530.98,514.5V677.6M553.06,514.5V677.6M575.14,514.5V677.6M597.22,514.5V677.6M641.38,514.5V677.6M663.46,514.5V677.6M685.54,514.5V677.6M707.62,514.5V677.6" stroke="#d0d0d0" stroke-width="1" fill="none"/>
<path d="M67.3,650.42H729.7M67.3,623.23H729.7M67.3,596.05H729.7M67.3,568.87H729.7M67.3,541.68H729.7" stroke="#b8b8b8" stroke-width="1" fill="none"/>
<path d="M177.7,514.5V677.6M288.1,514.5V677.6M398.5,514.5V677.6M508.9,514.5V677.6M619.3,514.5V677.6" stroke="#a4a4a4" stroke-width="1" fill="none"/>
<line x1="67.3" y1="514.5" x2="685" y2="514.5" stroke="#333" stroke-width="1.2"/>
<line x1="685" y1="514.5" x2="729.7" y2="514.5" stroke="#888" stroke-width="1.2"/>
<line x1="729.7" y1="514.5" x2="729.7" y2="677.6" stroke="#888" stroke-width="1.4"/>
<line x1="67.3" y1="513.9" x2="67.3" y2="682.1" stroke="#222" stroke-width="1.3"/>
<line x1="62.8" y1="677.6" x2="729.7" y2="677.6" stroke="#222" stroke-width="1.3"/>
<path d="M62.8,677.6H71.8M64.8,664.01H69.8M62.8,650.42H71.8M64.8,636.83H69.8M62.8,623.23H71.8M64.8,609.64H69.8M62.8,596.05H71.8M64.8,582.46H69.8M62.8,568.87H71.8M64.8,555.27H69.8M62.8,541.68H71.8M64.8,528.09H69.8M62.8,514.5H71.8M67.3,673.1V682.1M89.38,675.6V679.6M111.46,675.6V679.6M133.54,675.6V679.6M155.62,675.6V679.6M177.7,673.1V682.1M199.78,675.6V679.6M221.86,675.6V679.6M243.94,675.6V679.6M266.02,675.6V679.6M288.1,673.1V682.1M310.18,675.6V679.6M332.26,675.6V679.6M354.34,675.6V679.6M376.42,675.6V679.6M398.5,673.1V682.1M420.58,675.6V679.6M442.66,675.6V679.6M464.74,675.6V679.6M486.82,675.6V679.6M508.9,673.1V682.1M530.98,675.6V679.6M553.06,675.6V679.6M575.14,675.6V679.6M597.22,675.6V679.6M619.3,673.1V682.1M641.38,675.6V679.6M663.46,675.6V679.6M685.54,675.6V679.6M707.62,675.6V679.6M729.7,673.1V682.1" stroke="#222" stroke-width="1.1" fill="none"/>
<text x="59.4" y="682.3" font-size="15.2" text-anchor="end" fill="#1a1a1a">20</text>
<text x="59.4" y="655.12" font-size="15.2" text-anchor="end" fill="#1a1a1a">30</text>
<text x="59.4" y="627.93" font-size="15.2" text-anchor="end" fill="#1a1a1a">40</text>
<text x="59.4" y="600.75" font-size="15.2" text-anchor="end" fill="#1a1a1a">50</text>
<text x="59.4" y="573.57" font-size="15.2" text-anchor="end" fill="#1a1a1a">60</text>
<text x="59.4" y="546.38" font-size="15.2" text-anchor="end" fill="#1a1a1a">70</text>
<text x="59.4" y="519.2" font-size="15.2" text-anchor="end" fill="#1a1a1a">80</text>
<text x="67.3" y="697.2" font-size="15.2" text-anchor="middle" fill="#1a1a1a">900</text>
<text x="177.7" y="697.2" font-size="15.2" text-anchor="middle" fill="#1a1a1a">1000</text>
<text x="288.1" y="697.2" font-size="15.2" text-anchor="middle" fill="#1a1a1a">1100</text>
<text x="398.5" y="697.2" font-size="15.2" text-anchor="middle" fill="#1a1a1a">1200</text>
<text x="508.9" y="697.2" font-size="15.2" text-anchor="middle" fill="#1a1a1a">1300</text>
<text x="619.3" y="697.2" font-size="15.2" text-anchor="middle" fill="#1a1a1a">1400</text>
<text x="729.7" y="697.2" font-size="15.2" text-anchor="middle" fill="#1a1a1a">1500</text>
<text transform="translate(37,642.59) rotate(-90)" font-size="15.3" fill="#1a1a1a" textLength="94.62" lengthAdjust="spacingAndGlyphs">FWHM [meV]</text>
<text x="340.03" y="718.8" font-size="15.6" fill="#1a1a1a">Wavelength [nm]</text>
<path d="M122.5,666.73 L125.88,663.48 L129.26,660.26 L132.64,657.12 L136.02,654.08 L139.4,651.05 L142.78,648.04 L146.16,645.07 L149.54,642.18 L152.92,639.37 L156.3,636.69 L159.68,634.11 L163.06,631.63 L166.43,629.21 L169.81,626.83 L173.19,624.47 L176.57,622.12 L179.95,619.75 L183.33,617.38 L186.71,615.02 L190.09,612.7 L193.47,610.42 L196.85,608.22 L200.23,606.11 L203.61,604.12 L206.99,602.24 L210.37,600.42 L213.75,598.66 L217.13,596.91 L220.51,595.13 L223.89,593.33 L227.27,591.56 L230.65,589.84 L234.03,588.15 L237.41,586.48 L240.79,584.81 L244.17,583.16 L247.54,581.5 L250.92,579.84 L254.3,578.18 L257.68,576.52 L261.06,574.84 L264.44,573.15 L267.82,571.46 L271.2,569.76 L274.58,568.06 L277.96,566.36 L281.34,564.66 L284.72,562.96 L288.1,561.26" fill="none" stroke="#000" stroke-width="3.4" stroke-dasharray="9 3.6"/>
<path d="M199.78,617.8 L232.9,598.77" fill="none" stroke="#1f7fd0" stroke-width="3.4" stroke-dasharray="9 3.6"/>
<path d="M288.1,616.68 L293.81,615.07 L299.52,613.51 L305.23,611.99 L310.94,610.52 L316.65,609.09 L322.36,607.71 L328.07,606.38 L333.78,605.09 L339.49,603.85 L345.2,602.65 L350.91,601.51 L356.62,600.4 L362.33,599.35 L368.04,598.34 L373.76,597.37 L379.47,596.45 L385.18,595.58 L390.89,594.75 L396.6,593.97 L402.31,593.24 L408.02,592.55 L413.73,591.91 L419.44,591.32 L425.15,590.77 L430.86,590.26 L436.57,589.81 L442.28,589.4 L447.99,589.03 L453.7,588.71" fill="none" stroke="#5e8c3a" stroke-width="3.4" stroke-dasharray="9 3.6"/>
<path d="M398.5,617.8 L508.9,609.64" fill="none" stroke="#b41a1a" stroke-width="3.4" stroke-dasharray="9 3.6"/>
<path d="M415.06,634.11 L442.66,615.08" fill="none" stroke="#f0903c" stroke-width="3.4" stroke-dasharray="9 3.6"/>
<path d="M392.87,573.9 L397.63,574.68 L402.4,575.48 L407.16,576.26 L411.93,577.03 L416.69,577.78 L421.45,578.48 L426.22,579.15 L430.98,579.78 L435.75,580.39 L440.51,580.97 L445.27,581.54 L450.04,582.1 L454.8,582.65 L459.57,583.18 L464.33,583.71 L469.09,584.22 L473.86,584.71 L478.62,585.18 L483.39,585.65 L488.15,586.11 L492.91,586.57 L497.68,587.03 L502.44,587.5 L507.21,587.98 L511.97,588.47 L516.73,588.97 L521.5,589.47 L526.26,589.96 L531.03,590.45 L535.79,590.92 L540.55,591.37 L545.32,591.81 L550.08,592.23 L554.85,592.65 L559.61,593.09 L564.38,593.54 L569.14,594.03 L573.9,594.56 L578.67,595.15 L583.43,595.82 L588.2,596.54 L592.96,597.31 L597.72,598.11 L602.49,598.91 L607.25,599.69 L612.02,600.44 L616.78,601.18 L621.54,601.93 L626.31,602.69 L631.07,603.49 L635.84,604.32 L640.6,605.23 L645.36,606.23 L650.13,607.33 L654.89,608.5 L659.66,609.71 L664.42,610.95 L669.18,612.21 L673.95,613.45" fill="none" stroke="#ff1a1a" stroke-width="3.4" stroke-dasharray="9 3.6"/>
<polygon points="122.5,660.33 128.97,665.03 126.5,672.63 118.5,672.63 116.03,665.03" fill="#000"/>
<polygon points="232.9,584.21 239.37,588.91 236.9,596.51 228.9,596.51 226.43,588.91" fill="#000"/>
<polygon points="288.1,554.31 294.57,559.01 292.1,566.61 284.1,566.61 281.63,559.01" fill="#000"/>
<polygon points="199.78,610.3 207.28,617.8 199.78,625.3 192.28,617.8" fill="#0a0af0"/>
<polygon points="232.9,591.27 240.4,598.77 232.9,606.27 225.4,598.77" fill="#0a0af0"/>
<polygon points="288.1,610.3 295.6,617.8 288.1,625.3 280.6,617.8" fill="#178a17"/>
<polygon points="321.22,599.42 328.72,606.92 321.22,614.42 313.72,606.92" fill="#178a17"/>
<polygon points="343.3,593.99 350.8,601.49 343.3,608.99 335.8,601.49" fill="#178a17"/>
<polygon points="398.5,588.55 406,596.05 398.5,603.55 391,596.05" fill="#178a17"/>
<polygon points="453.7,580.39 461.2,587.89 453.7,595.39 446.2,587.89" fill="#178a17"/>
<polygon points="288.1,639.4 295.5,652.7 280.7,652.7" fill="#a11ad6"/>
<circle cx="398.5" cy="617.8" r="6" fill="#7d0000"/>
<circle cx="508.9" cy="609.64" r="6" fill="#7d0000"/>
<rect x="408.86" y="627.91" width="12.4" height="12.4" fill="#ff8000"/>
<rect x="436.46" y="608.88" width="12.4" height="12.4" fill="#ff8000"/>
<polygon points="398.5,561.77 400.38,566.78 405.73,567.02 401.54,570.35 402.97,575.52 398.5,572.56 394.03,575.52 395.46,570.35 391.27,567.02 396.62,566.78" fill="#ff1010"/>
<polygon points="536.5,588.95 538.38,593.97 543.73,594.2 539.54,597.54 540.97,602.7 536.5,599.74 532.03,602.7 533.46,597.54 529.27,594.2 534.62,593.97" fill="#ff1010"/>
<polygon points="575.14,575.36 577.02,580.38 582.37,580.61 578.18,583.94 579.61,589.11 575.14,586.15 570.67,589.11 572.1,583.94 567.91,580.61 573.26,580.38" fill="#ff1010"/>
<polygon points="674.5,607.98 676.38,613 681.73,613.23 677.54,616.56 678.97,621.73 674.5,618.77 670.03,621.73 671.46,616.56 667.27,613.23 672.62,613" fill="#ff1010"/>
<text x="225.02" y="553.8" font-size="13.8" font-weight="bold" fill="#111" textLength="57.56" lengthAdjust="spacingAndGlyphs">[Ref.23]</text>
<text x="307.22" y="587.4" font-size="13.8" font-weight="bold" fill="#1e8a1e" textLength="57.15" lengthAdjust="spacingAndGlyphs">[Ref.24]</text>
<text x="207.32" y="639.7" font-size="13.8" font-weight="bold" fill="#1414e8" textLength="57.67" lengthAdjust="spacingAndGlyphs">[Ref.26]</text>
<text x="283.62" y="664.6" font-size="13.8" font-weight="bold" fill="#9b1fd4" textLength="57.25" lengthAdjust="spacingAndGlyphs">[Ref.25]</text>
<text x="464.01" y="637.7" font-size="13.8" font-weight="bold" fill="#7d1010" textLength="58.39" lengthAdjust="spacingAndGlyphs">[Ref.27]</text>
<text x="398.42" y="666.5" font-size="13.8" font-weight="bold" fill="#f28a2a" textLength="57.15" lengthAdjust="spacingAndGlyphs">[Ref.28]</text>
<text x="646.55" y="644" font-size="15.8" fill="#ff1a1a">This work</text></svg>
</body></html>
